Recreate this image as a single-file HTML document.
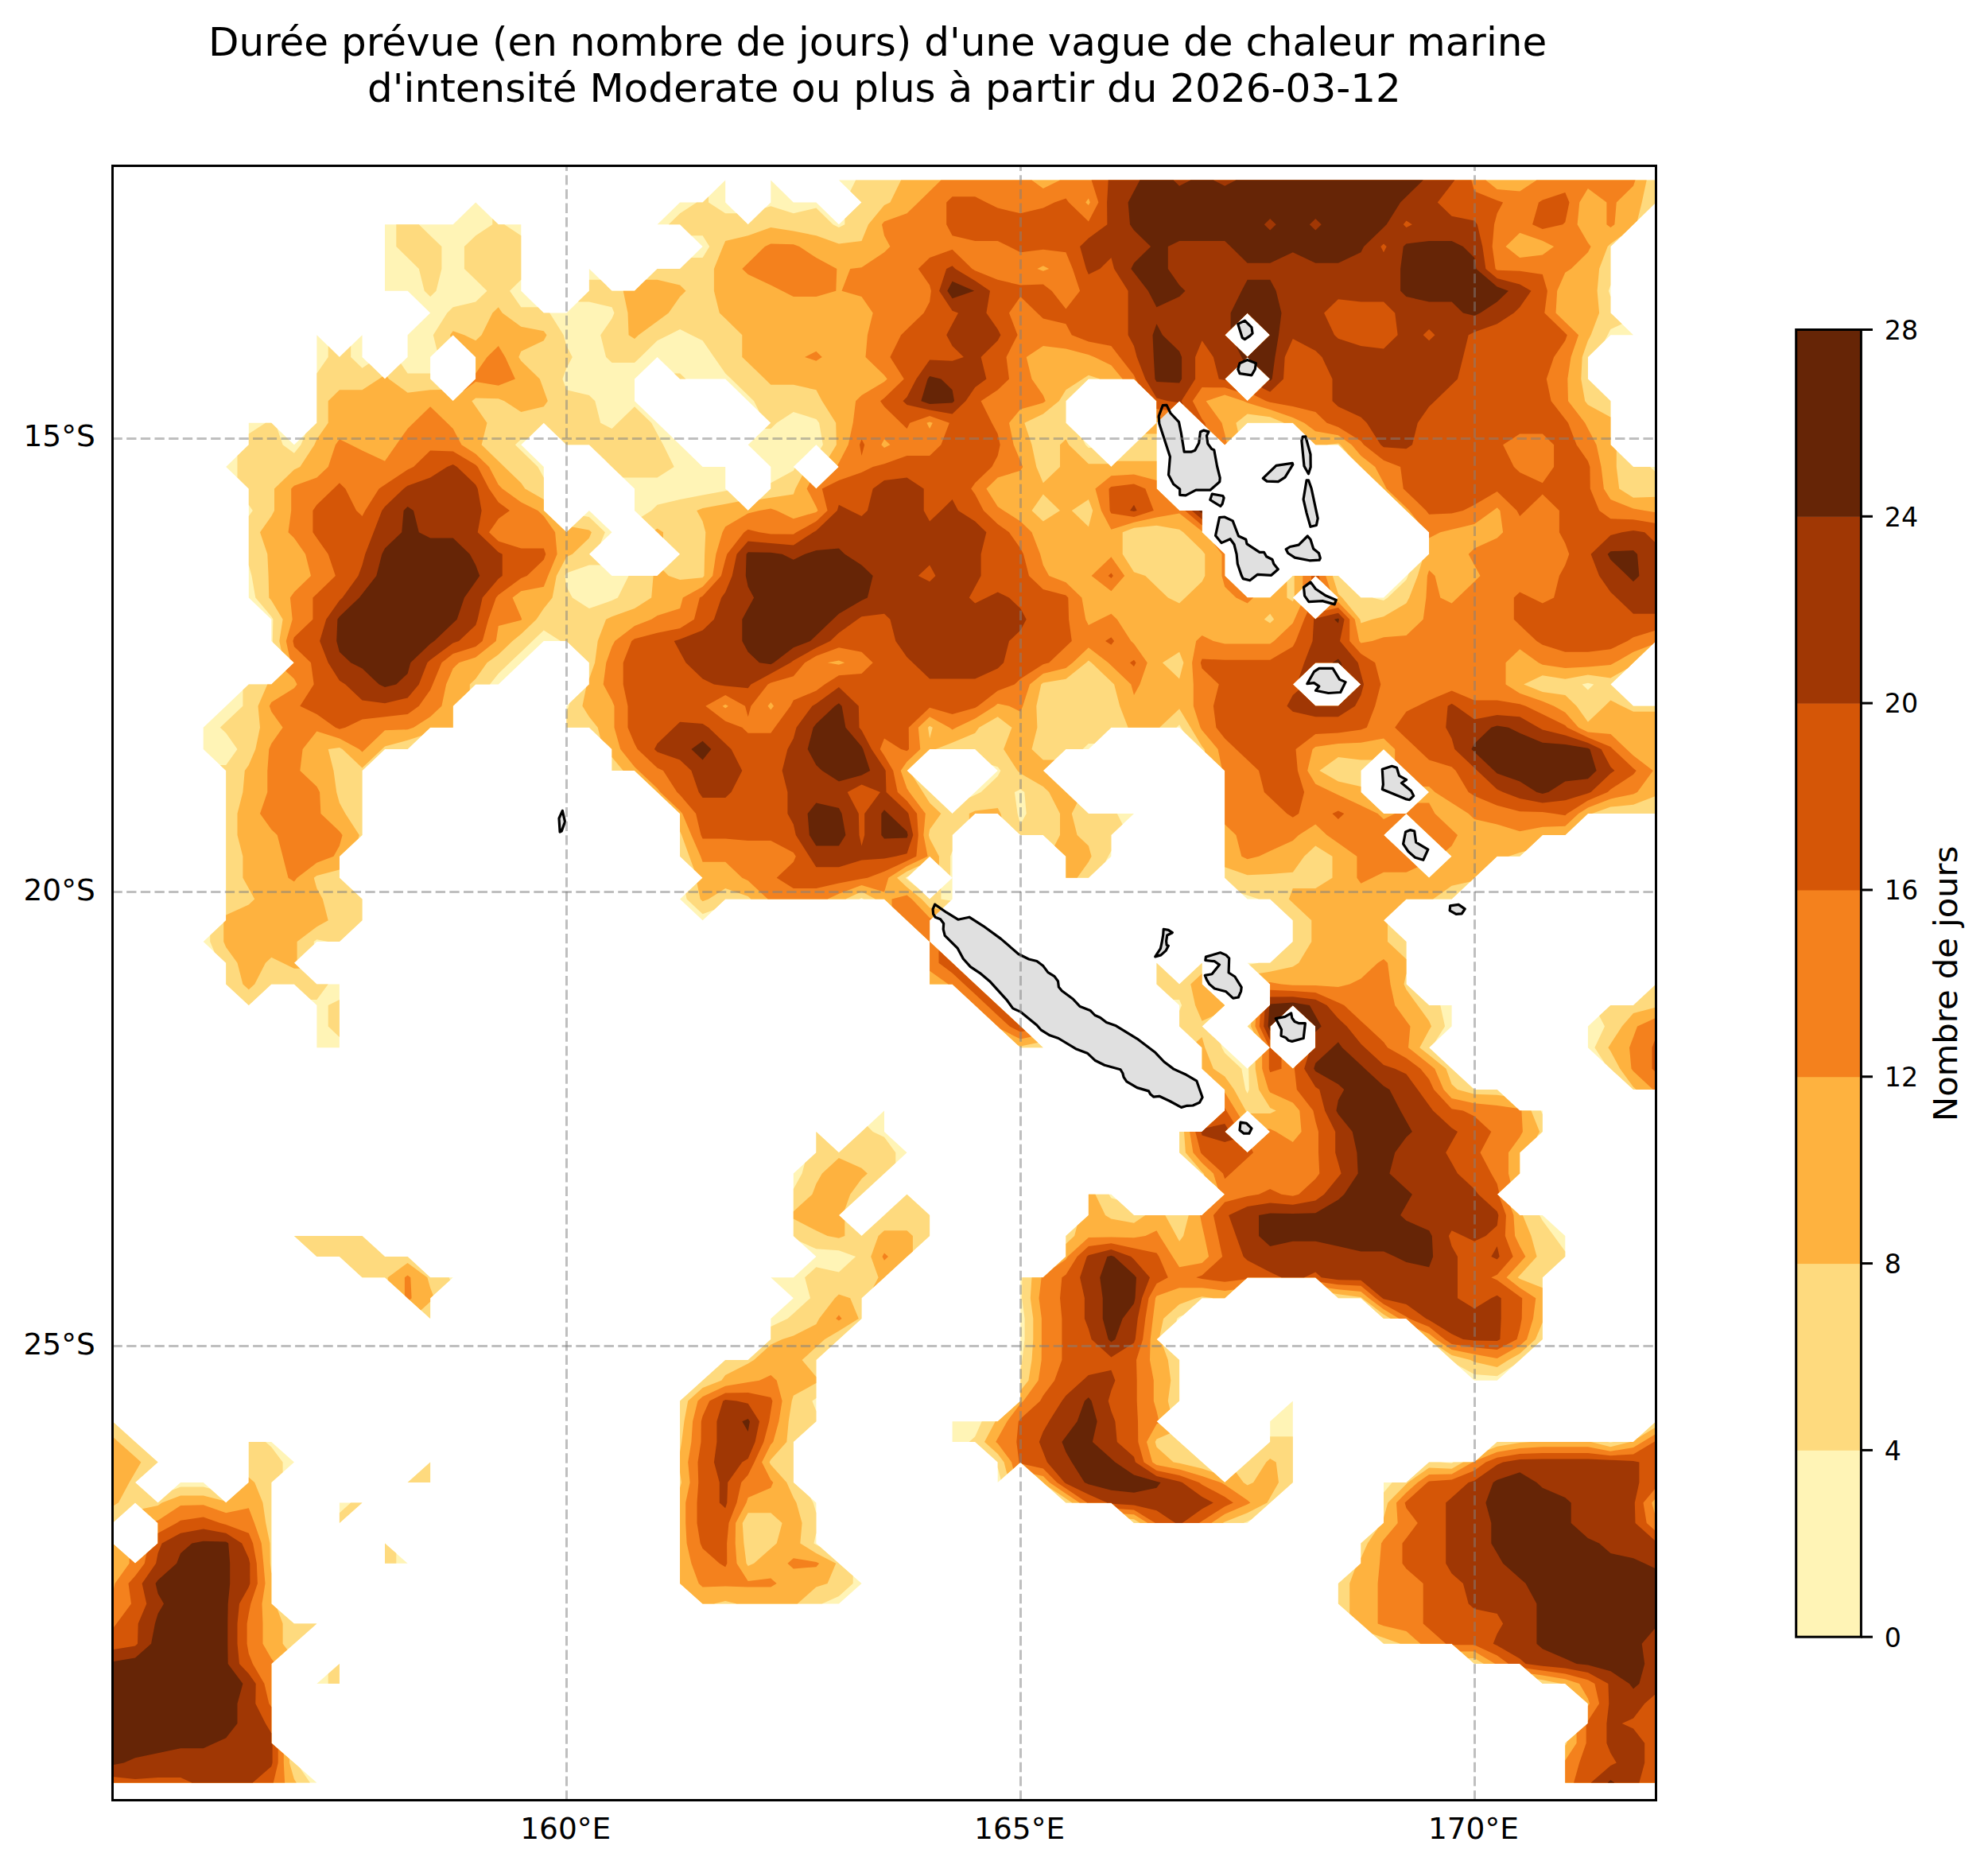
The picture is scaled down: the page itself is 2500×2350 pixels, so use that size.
<!DOCTYPE html>
<html lang="fr"><head><meta charset="utf-8"><title>Vague de chaleur marine</title>
<style>html,body{margin:0;padding:0;background:#fff}body{width:2500px;height:2350px;overflow:hidden}svg{display:block}text{font-family:"DejaVu Sans","Liberation Sans",sans-serif;fill:#000}</style></head><body>
<svg xmlns="http://www.w3.org/2000/svg" width="2500" height="2350" viewBox="0 0 2500 2350">
<rect width="2500" height="2350" fill="#fff"/>
<defs><clipPath id="ax"><rect x="141.5" y="208.5" width="1941.0" height="2055.0"/></clipPath></defs>
<g clip-path="url(#ax)">
<path fill="#e0e0e0" stroke="none" stroke-width="3.2" stroke-linejoin="round" d="M1175.6 1137.1L1190.2 1147.2L1204.8 1156.2L1218.9 1153.2L1236.5 1164.3L1258.6 1180.4L1280.7 1199.5L1293.8 1206.0L1303.9 1208.5L1311.9 1214.6L1317.9 1222.6L1326.0 1227.6L1330.5 1233.7L1331.4 1241.0L1335.3 1245.7L1349.2 1256.0L1358.2 1265.6L1370.9 1270.4L1376.9 1276.5L1383.6 1279.5L1391.4 1285.5L1403.5 1289.8L1430.0 1306.1L1453.0 1323.6L1463.8 1335.0L1475.9 1344.1L1490.4 1350.7L1504.9 1359.2L1512.1 1379.7L1508.5 1386.3L1500.1 1390.0L1492.8 1390.3L1485.6 1392.4L1471.1 1384.5L1457.8 1378.3L1450.6 1379.1L1446.9 1376.1L1444.5 1371.9L1430.0 1367.6L1416.8 1359.8L1413.1 1354.4L1411.9 1349.5L1408.9 1344.7L1389.0 1339.3L1376.9 1333.2L1367.3 1324.2L1352.8 1318.7L1331.0 1305.5L1320.2 1301.8L1309.3 1295.2L1303.9 1289.0L1283.7 1272.4L1273.7 1267.9L1265.6 1256.8L1244.5 1233.7L1232.4 1223.6L1220.4 1215.6L1211.3 1205.5L1204.3 1192.4L1188.2 1176.3L1186.2 1168.3L1186.7 1161.2L1182.6 1155.7L1176.1 1153.2L1173.6 1149.2L1173.1 1143.1ZM1463.2 1168.3L1469.3 1169.4L1474.3 1172.7L1467.7 1176.0L1466.6 1183.2L1467.1 1188.2L1469.3 1189.3L1466.0 1195.4L1459.9 1200.9L1452.7 1202.9L1459.4 1192.6L1461.0 1185.4L1462.7 1175.5ZM1516.4 1203.1L1534.6 1197.8L1541.8 1200.9L1545.7 1204.8L1545.1 1223.0L1552.9 1228.0L1561.2 1241.3L1560.6 1246.3L1557.3 1254.0L1550.7 1255.1L1541.8 1246.8L1527.4 1243.0L1520.8 1237.4L1517.5 1231.9L1515.3 1226.4L1524.1 1224.7L1533.5 1213.1L1527.4 1208.7L1515.8 1207.5ZM1604.3 1280.6L1616.0 1278.4L1623.7 1273.9L1624.8 1280.0L1628.1 1284.5L1633.7 1286.7L1641.4 1286.7L1639.2 1305.5L1624.8 1309.4L1620.4 1308.3L1617.1 1304.9L1611.0 1302.2L1611.5 1294.4ZM1560.0 1411.2L1567.5 1412.3L1574.0 1418.8L1570.8 1425.2L1564.3 1425.2L1559.0 1420.9ZM1462.2 509.7L1467.1 509.4L1472.0 519.5L1482.5 530.6L1485.5 545.4L1489.2 568.2L1497.8 568.2L1502.8 566.3L1507.7 557.1L1509.5 542.9L1513.8 541.1L1520.0 542.9L1517.5 547.8L1518.8 557.7L1523.7 564.5L1526.8 565.7L1530.5 586.0L1534.2 600.8L1533.8 605.7L1521.8 616.2L1504.0 616.2L1491.1 622.9L1483.7 622.3L1483.7 614.9L1475.7 608.8L1469.5 597.1L1471.4 574.3L1457.8 532.5L1457.2 523.2ZM1524.3 621.1L1537.8 623.5L1539.1 626.0L1537.2 633.4L1534.8 636.5L1521.8 628.5ZM1588.3 601.4L1604.9 585.4L1625.2 582.3L1625.8 584.2L1616.0 600.2L1607.4 605.7L1593.2 605.1ZM1638.2 549.1L1641.8 548.8L1648.0 571.2L1648.2 587.2L1645.5 595.8L1640.0 586.0L1636.9 554.0ZM1643.1 603.8L1645.5 603.8L1649.2 614.3L1657.2 651.8L1655.4 660.5L1648.0 662.3L1643.1 645.1L1639.1 627.8ZM1533.5 650.6L1539.7 650.0L1550.2 654.9L1557.5 674.0L1566.8 678.3L1568.0 683.8L1584.0 694.3L1589.5 694.3L1592.6 699.8L1600.0 703.5L1601.8 709.1L1607.3 715.8L1598.7 723.3L1581.5 722.3L1571.8 729.8L1563.2 727.6L1561.1 723.3L1556.3 709.1L1555.1 696.8L1552.0 684.5L1547.1 677.7L1536.0 682.6L1528.6 673.4ZM1617.2 690.6L1622.2 687.5L1633.2 685.1L1644.3 674.0L1648.0 678.3L1651.7 690.0L1658.5 695.5L1660.3 701.7L1659.1 704.2L1646.8 704.8L1628.3 701.1L1619.7 695.5ZM1556.8 407.4L1565.4 403.1L1574.0 411.7L1575.1 419.2L1571.8 422.4L1565.4 426.7L1562.2 424.6ZM1559.0 456.8L1568.6 452.5L1579.4 456.8L1578.3 464.3L1574.0 471.8L1559.0 469.7L1556.8 464.3ZM1639.5 738.4L1648.1 731.9L1654.5 740.5L1667.4 749.1L1680.3 754.5L1678.2 759.9L1663.1 755.6L1645.9 756.6L1640.6 749.1ZM1643.8 859.7L1652.4 844.7L1658.8 840.4L1676.0 840.4L1684.6 854.4L1692.1 857.6L1685.7 870.5L1670.6 871.5L1654.5 868.3L1658.8 862.9L1652.4 858.6ZM1738.3 967.3L1750.4 963.3L1756.5 965.3L1759.5 975.4L1768.6 980.4L1762.5 984.5L1774.7 994.6L1777.7 1000.6L1772.6 1005.7L1767.6 1004.6L1738.3 992.5L1739.4 986.5ZM1767.6 1046.0L1773.6 1043.6L1778.7 1045.0L1780.7 1059.1L1795.8 1068.2L1789.8 1081.3L1779.7 1078.3L1770.6 1070.2L1764.6 1061.1ZM1823.7 1138.8L1834.2 1137.4L1842.2 1142.8L1838.2 1148.9L1831.1 1149.3L1823.1 1144.8ZM707.3 1019.3L710.5 1033.2L706.2 1045.1L704.1 1046.1L703.0 1029.0Z"/>
<path fill="#fff4b6" fill-rule="evenodd" d="M883.6 254.4L912.2 226.5L912.2 254.4L940.7 282.3L969.3 254.4L969.3 226.5L997.8 254.4L1026.4 254.4L1054.9 282.3L1083.5 254.4L1054.9 226.5L1083.5 226.5L1112 226.5L1140.5 226.5L1169.1 226.5L1197.6 226.5L1226.2 226.5L1254.7 226.5L1283.3 226.5L1311.8 226.5L1340.4 226.5L1368.9 226.5L1397.4 226.5L1426 226.5L1454.5 226.5L1483.1 226.5L1511.6 226.5L1540.2 226.5L1568.7 226.5L1597.2 226.5L1625.8 226.5L1654.3 226.5L1682.9 226.5L1711.4 226.5L1740 226.5L1768.5 226.5L1797.1 226.5L1825.6 226.5L1854.1 226.5L1882.7 226.5L1911.2 226.5L1939.8 226.5L1968.3 226.5L1996.9 226.5L2025.4 226.5L2054 226.5L2082.5 226.5L2082.5 254.4L2054 282.3L2025.4 310.1L2025.4 337.9L2025.4 365.7L2025.4 393.4L2054 421.2L2025.4 421.2L1996.9 448.9L1996.9 476.5L2025.4 504.2L2025.4 531.8L2025.4 559.3L2054 586.9L2082.5 586.9L2082.5 614.4L2082.5 641.9L2082.5 669.3L2082.5 696.7L2082.5 724.1L2082.5 751.5L2082.5 778.8L2082.5 806.1L2054 833.3L2025.4 860.5L2054 887.7L2082.5 887.7L2082.5 914.8L2082.5 941.9L2082.5 969L2082.5 996L2082.5 1023L2054 1023L2025.4 1023L1996.9 1023L1968.3 1049.9L1939.8 1049.9L1911.2 1076.8L1882.7 1076.8L1854.1 1103.7L1825.6 1130.5L1797.1 1130.5L1768.5 1130.5L1740 1157.3L1768.5 1184.1L1768.5 1210.8L1768.5 1237.4L1797.1 1264L1825.6 1264L1825.6 1290.6L1797.1 1317.2L1825.6 1343.7L1854.1 1370.1L1882.7 1370.1L1911.2 1396.5L1939.8 1396.5L1939.8 1422.9L1911.2 1449.2L1911.2 1475.5L1882.7 1501.7L1911.2 1527.9L1939.8 1527.9L1968.3 1554L1968.3 1580.1L1939.8 1606.2L1939.8 1632.2L1939.8 1658.1L1939.8 1684L1911.2 1709.9L1882.7 1735.7L1854.1 1735.7L1825.6 1709.9L1797.1 1684L1768.5 1658.1L1740 1658.1L1711.4 1632.2L1682.9 1632.2L1654.3 1606.2L1625.8 1606.2L1597.2 1606.2L1568.7 1606.2L1540.2 1632.2L1511.6 1632.2L1483.1 1658.1L1454.5 1684L1483.1 1709.9L1483.1 1735.7L1483.1 1761.5L1454.5 1787.2L1483.1 1812.9L1511.6 1838.5L1540.2 1864L1568.7 1838.5L1597.2 1812.9L1597.2 1787.2L1625.8 1761.5L1625.8 1787.2L1625.8 1812.9L1625.8 1838.5L1625.8 1864L1597.2 1889.6L1568.7 1915L1540.2 1915L1511.6 1915L1483.1 1915L1454.5 1915L1426 1915L1397.4 1889.6L1368.9 1889.6L1340.4 1889.6L1311.8 1864L1283.3 1838.5L1254.7 1864L1254.7 1838.5L1226.2 1812.9L1197.6 1812.9L1197.6 1787.2L1226.2 1787.2L1254.7 1787.2L1283.3 1761.5L1283.3 1735.7L1283.3 1709.9L1283.3 1684L1283.3 1658.1L1283.3 1632.2L1283.3 1606.2L1311.8 1606.2L1340.4 1580.1L1340.4 1554L1368.9 1527.9L1368.9 1501.7L1397.4 1501.7L1426 1527.9L1454.5 1527.9L1483.1 1527.9L1511.6 1527.9L1540.2 1501.7L1511.6 1475.5L1483.1 1449.2L1483.1 1422.9L1511.6 1422.9L1540.2 1396.5L1540.2 1370.1L1511.6 1343.7L1511.6 1317.2L1483.1 1290.6L1483.1 1264L1454.5 1237.4L1454.5 1210.8L1483.1 1237.4L1511.6 1210.8L1511.6 1237.4L1540.2 1264L1511.6 1290.6L1540.2 1317.2L1568.7 1343.7L1597.2 1317.2L1625.8 1343.7L1654.3 1317.2L1654.3 1290.6L1625.8 1264L1597.2 1290.6L1597.2 1317.2L1568.7 1290.6L1597.2 1264L1597.2 1237.4L1568.7 1210.8L1597.2 1210.8L1625.8 1184.1L1625.8 1157.3L1597.2 1130.5L1568.7 1130.5L1540.2 1103.7L1540.2 1076.8L1540.2 1049.9L1540.2 1023L1540.2 996L1540.2 969L1511.6 941.9L1483.1 914.8L1454.5 914.8L1426 914.8L1397.4 914.8L1368.9 941.9L1340.4 941.9L1311.8 969L1340.4 996L1368.9 1023L1397.4 1023L1426 1023L1397.4 1049.9L1397.4 1076.8L1368.9 1103.7L1340.4 1103.7L1340.4 1076.8L1311.8 1049.9L1283.3 1049.9L1254.7 1023L1226.2 1023L1197.6 1049.9L1197.6 1076.8L1197.6 1103.7L1169.1 1076.8L1140.5 1103.7L1169.1 1130.5L1197.6 1103.7L1197.6 1130.5L1169.1 1157.3L1169.1 1184.1L1140.5 1157.3L1112 1130.5L1083.5 1130.5L1054.9 1130.5L1026.4 1130.5L997.8 1130.5L969.3 1130.5L940.7 1130.5L912.2 1130.5L883.6 1157.3L855.1 1130.5L883.6 1103.7L855.1 1076.8L855.1 1049.9L855.1 1023L826.6 996L798 969L769.5 969L769.5 941.9L740.9 914.8L712.4 914.8L712.4 887.7L740.9 860.5L740.9 833.3L712.4 806.1L683.8 806.1L655.3 833.3L626.8 860.5L598.2 860.5L569.7 887.7L569.7 914.8L541.1 914.8L512.6 941.9L484 941.9L455.5 969L455.5 996L455.5 1023L455.5 1049.9L426.9 1076.8L426.9 1103.7L455.5 1130.5L455.5 1157.3L426.9 1184.1L398.4 1184.1L369.9 1210.8L398.4 1237.4L426.9 1237.4L426.9 1264L426.9 1290.6L426.9 1317.2L398.4 1317.2L398.4 1290.6L398.4 1264L369.9 1237.4L341.3 1237.4L312.8 1264L284.2 1237.4L284.2 1210.8L255.7 1184.1L284.2 1157.3L284.2 1130.5L284.2 1103.7L284.2 1076.8L284.2 1049.9L284.2 1023L284.2 996L284.2 969L255.7 941.9L255.7 914.8L284.2 887.7L312.8 860.5L341.3 860.5L369.9 833.3L341.3 806.1L341.3 778.8L312.8 751.5L312.8 724.1L312.8 696.7L312.8 669.3L312.8 641.9L312.8 614.4L284.2 586.9L312.8 559.3L312.8 531.8L341.3 531.8L369.9 559.3L398.4 531.8L398.4 504.2L398.4 476.5L398.4 448.9L398.4 421.2L426.9 448.9L455.5 421.2L455.5 448.9L484 476.5L512.6 448.9L512.6 421.2L541.1 393.4L512.6 365.7L484 365.7L484 337.9L484 310.1L484 282.3L512.6 282.3L541.1 282.3L569.7 282.3L598.2 254.4L626.8 282.3L655.3 282.3L655.3 310.1L655.3 337.9L655.3 365.7L683.8 393.4L712.4 393.4L740.9 365.7L740.9 337.9L769.5 365.7L798 365.7L826.6 337.9L855.1 337.9L883.6 310.1L855.1 282.3L826.6 282.3L855.1 254.4ZM1026.4 559.3L997.8 586.9L1026.4 614.4L1054.9 586.9ZM1197.6 941.9L1169.1 941.9L1140.5 969L1169.1 996L1197.6 1023L1226.2 996L1254.7 969L1226.2 941.9ZM1397.4 476.5L1368.9 476.5L1340.4 504.2L1340.4 531.8L1368.9 559.3L1397.4 586.9L1426 559.3L1454.5 531.8L1454.5 559.3L1454.5 586.9L1454.5 614.4L1483.1 641.9L1511.6 641.9L1511.6 669.3L1540.2 696.7L1540.2 724.1L1568.7 751.5L1597.2 751.5L1625.8 724.1L1654.3 724.1L1625.8 751.5L1654.3 778.8L1682.9 751.5L1654.3 724.1L1682.9 724.1L1711.4 751.5L1740 751.5L1768.5 724.1L1797.1 696.7L1797.1 669.3L1768.5 641.9L1740 614.4L1711.4 586.9L1682.9 559.3L1654.3 559.3L1625.8 531.8L1597.2 531.8L1568.7 531.8L1540.2 559.3L1511.6 531.8L1483.1 504.2L1454.5 531.8L1454.5 504.2L1426 476.5ZM1568.7 393.4L1540.2 421.2L1568.7 448.9L1540.2 476.5L1568.7 504.2L1597.2 476.5L1568.7 448.9L1597.2 421.2ZM1568.7 1396.5L1540.2 1422.9L1568.7 1449.2L1597.2 1422.9ZM569.7 421.2L541.1 448.9L541.1 476.5L569.7 504.2L598.2 476.5L598.2 448.9ZM683.8 531.8L655.3 559.3L683.8 586.9L683.8 614.4L683.8 641.9L712.4 669.3L740.9 641.9L769.5 669.3L740.9 696.7L769.5 724.1L798 724.1L826.6 724.1L855.1 696.7L826.6 669.3L798 641.9L798 614.4L769.5 586.9L740.9 559.3L712.4 559.3ZM826.6 448.9L798 476.5L798 504.2L826.6 531.8L855.1 559.3L883.6 586.9L912.2 586.9L912.2 614.4L940.7 641.9L969.3 614.4L969.3 586.9L940.7 559.3L969.3 531.8L940.7 504.2L912.2 476.5L883.6 476.5L855.1 476.5ZM1682.9 833.3L1654.3 833.3L1625.8 860.5L1654.3 887.7L1682.9 887.7L1711.4 860.5ZM1740 941.9L1711.4 969L1711.4 996L1740 1023L1768.5 1023L1740 1049.9L1768.5 1076.8L1797.1 1103.7L1825.6 1076.8L1797.1 1049.9L1768.5 1023L1797.1 996L1768.5 969ZM1169.1 1210.8L1169.1 1184.1L1197.6 1210.8L1226.2 1237.4L1254.7 1264L1283.3 1290.6L1311.8 1317.2L1283.3 1317.2L1254.7 1290.6L1226.2 1264L1197.6 1237.4L1169.1 1237.4ZM2054 1264L2082.5 1237.4L2082.5 1264L2082.5 1290.6L2082.5 1317.2L2082.5 1343.7L2082.5 1370.1L2054 1370.1L2025.4 1343.7L1996.9 1317.2L1996.9 1290.6L2025.4 1264ZM1083.5 1422.9L1112 1396.5L1112 1422.9L1140.5 1449.2L1112 1475.5L1083.5 1501.7L1054.9 1527.9L1083.5 1554L1112 1527.9L1140.5 1501.7L1169.1 1527.9L1169.1 1554L1140.5 1580.1L1112 1606.2L1083.5 1632.2L1083.5 1658.1L1054.9 1684L1026.4 1709.9L1026.4 1735.7L1026.4 1761.5L1026.4 1787.2L997.8 1812.9L997.8 1838.5L997.8 1864L1026.4 1889.6L1026.4 1915L1026.4 1940.5L1054.9 1965.8L1083.5 1991.1L1054.9 2016.4L1026.4 2016.4L997.8 2016.4L969.3 2016.4L940.7 2016.4L912.2 2016.4L883.6 2016.4L855.1 1991.1L855.1 1965.8L855.1 1940.5L855.1 1915L855.1 1889.6L855.1 1864L855.1 1838.5L855.1 1812.9L855.1 1787.2L855.1 1761.5L883.6 1735.7L912.2 1709.9L940.7 1709.9L969.3 1684L969.3 1658.1L997.8 1632.2L969.3 1606.2L997.8 1606.2L1026.4 1580.1L997.8 1554L997.8 1527.9L997.8 1501.7L997.8 1475.5L1026.4 1449.2L1026.4 1422.9L1054.9 1449.2ZM369.9 1554L398.4 1554L426.9 1554L455.5 1554L484 1580.1L512.6 1580.1L541.1 1606.2L569.7 1606.2L541.1 1632.2L541.1 1658.1L512.6 1632.2L484 1606.2L455.5 1606.2L426.9 1580.1L398.4 1580.1ZM141.5 1812.9L141.5 1787.2L170 1812.9L198.6 1838.5L170 1864L198.6 1889.6L227.1 1864L255.7 1864L284.2 1889.6L312.8 1864L312.8 1838.5L312.8 1812.9L341.3 1812.9L369.9 1838.5L341.3 1864L341.3 1889.6L341.3 1915L341.3 1940.5L341.3 1965.8L341.3 1991.1L341.3 2016.4L369.9 2041.6L398.4 2041.6L369.9 2066.8L341.3 2091.9L341.3 2116.9L341.3 2141.9L341.3 2166.9L341.3 2191.8L369.9 2216.6L398.4 2241.4L369.9 2241.4L341.3 2241.4L312.8 2241.4L284.2 2241.4L255.7 2241.4L227.1 2241.4L198.6 2241.4L170 2241.4L141.5 2241.4L141.5 2216.6L141.5 2191.8L141.5 2166.9L141.5 2141.9L141.5 2116.9L141.5 2091.9L141.5 2066.8L141.5 2041.6L141.5 2016.4L141.5 1991.1L141.5 1965.8L141.5 1940.5L170 1965.8L198.6 1940.5L198.6 1915L170 1889.6L141.5 1915L141.5 1889.6L141.5 1864L141.5 1838.5ZM2054 1812.9L2082.5 1787.2L2082.5 1812.9L2082.5 1838.5L2082.5 1864L2082.5 1889.6L2082.5 1915L2082.5 1940.5L2082.5 1965.8L2082.5 1991.1L2082.5 2016.4L2082.5 2041.6L2082.5 2066.8L2082.5 2091.9L2082.5 2116.9L2082.5 2141.9L2082.5 2166.9L2082.5 2191.8L2082.5 2216.6L2082.5 2241.4L2054 2241.4L2025.4 2241.4L1996.9 2241.4L1968.3 2241.4L1968.3 2216.6L1968.3 2191.8L1996.9 2166.9L1996.9 2141.9L1968.3 2116.9L1939.8 2116.9L1911.2 2091.9L1882.7 2091.9L1854.1 2091.9L1825.6 2066.8L1797.1 2066.8L1768.5 2066.8L1740 2066.8L1711.4 2041.6L1682.9 2016.4L1682.9 1991.1L1711.4 1965.8L1711.4 1940.5L1740 1915L1740 1889.6L1740 1864L1768.5 1864L1797.1 1838.5L1825.6 1838.5L1854.1 1838.5L1882.7 1812.9L1911.2 1812.9L1939.8 1812.9L1968.3 1812.9L1996.9 1812.9L2025.4 1812.9ZM512.6 1864L541.1 1838.5L541.1 1864ZM426.9 1889.6L455.5 1889.6L426.9 1915ZM484 1965.8L484 1940.5L512.6 1965.8ZM398.4 2116.9L426.9 2091.9L426.9 2116.9Z"/>
<path fill="#feda7e" fill-rule="evenodd" d="M883.6 254.4L891 247.2L891 254.4L912.2 268.3L926.5 268.3L940.7 282.3L961.9 261.6L969.3 259.3L997.8 268.3L1026.4 261.6L1047.5 282.3L1054.9 285.9L1062.3 282.3L1062.3 275L1083.5 254.4L1069.2 240.5L1076.1 226.5L1083.5 226.5L1112 226.5L1140.5 226.5L1169.1 226.5L1197.6 226.5L1226.2 226.5L1254.7 226.5L1283.3 226.5L1311.8 226.5L1340.4 226.5L1368.9 226.5L1397.4 226.5L1426 226.5L1454.5 226.5L1483.1 226.5L1511.6 226.5L1540.2 226.5L1568.7 226.5L1597.2 226.5L1625.8 226.5L1654.3 226.5L1682.9 226.5L1711.4 226.5L1740 226.5L1768.5 226.5L1797.1 226.5L1825.6 226.5L1854.1 226.5L1882.7 226.5L1911.2 226.5L1939.8 226.5L1968.3 226.5L1996.9 226.5L2025.4 226.5L2054 226.5L2082.5 226.5L2082.5 254.4L2054 282.3L2025.4 310.1L2025.4 337.9L2025.4 358.5L2022.9 365.7L2025.4 372.9L2025.4 393.4L2039.7 407.3L2025.4 414L2021.7 421.2L2018 428.3L1996.9 448.9L1996.9 476.5L2025.4 504.2L2025.4 531.8L2025.4 559.3L2054 586.9L2075.1 586.9L2082.5 594L2082.5 614.4L2082.5 641.9L2082.5 669.3L2082.5 696.7L2082.5 724.1L2082.5 751.5L2082.5 778.8L2082.5 806.1L2054 833.3L2025.4 860.5L2054 887.7L2082.5 887.7L2082.5 914.8L2082.5 941.9L2082.5 969L2082.5 996L2082.5 1023L2054 1023L2025.4 1023L1996.9 1023L1968.3 1049.9L1939.8 1049.9L1911.2 1076.8L1882.7 1076.8L1854.1 1103.7L1825.6 1130.5L1797.1 1130.5L1768.5 1130.5L1740 1157.3L1768.5 1184.1L1768.5 1210.8L1768.5 1237.4L1797.1 1264L1811.3 1264L1817.1 1290.6L1804.5 1310.3L1797.1 1317.2L1825.6 1343.7L1854.1 1370.1L1882.7 1370.1L1911.2 1396.5L1937.7 1396.5L1939.8 1401.1L1939.8 1422.9L1911.2 1449.2L1911.2 1475.5L1882.7 1501.7L1911.2 1527.9L1936.1 1527.9L1939.8 1534.7L1954.1 1554L1968.3 1573.4L1968.3 1580.1L1939.8 1606.2L1939.8 1632.2L1939.8 1658.1L1939.8 1684L1911.2 1709.9L1903.8 1716.6L1882.7 1730.2L1854.1 1728L1833 1716.6L1825.6 1709.9L1797.1 1684L1768.5 1658.1L1740 1658.1L1711.4 1632.2L1682.9 1632.2L1654.3 1606.2L1625.8 1606.2L1597.2 1606.2L1568.7 1606.2L1540.2 1632.2L1511.6 1632.2L1488.1 1653.6L1483.1 1655.4L1480.1 1658.1L1479.4 1661.5L1454.5 1684L1483.1 1709.9L1483.1 1735.7L1483.1 1761.5L1454.5 1787.2L1483.1 1812.9L1511.6 1838.5L1540.2 1864L1568.7 1838.5L1597.2 1812.9L1597.2 1806.2L1625.8 1806.2L1625.8 1812.9L1625.8 1838.5L1625.8 1864L1597.2 1889.6L1573.7 1910.6L1568.7 1913.1L1563.7 1915L1540.2 1915L1511.6 1915L1483.1 1915L1454.5 1915L1426 1915L1397.4 1889.6L1368.9 1889.6L1340.4 1889.6L1311.8 1864L1283.3 1838.5L1258.6 1860.6L1254.7 1845.1L1254.7 1838.5L1226.2 1812.9L1218.8 1812.9L1226.2 1806.2L1234.7 1787.2L1254.7 1787.2L1283.3 1761.5L1283.3 1735.7L1283.3 1722.8L1285.4 1709.9L1288.6 1684L1288.6 1658.1L1285.1 1632.2L1285.4 1606.2L1311.8 1606.2L1340.4 1580.1L1340.4 1554L1368.9 1527.9L1368.9 1501.7L1394.5 1501.7L1397.4 1506.3L1404.8 1508.5L1426 1527.9L1454.5 1527.9L1483.1 1527.9L1511.6 1527.9L1540.2 1501.7L1511.6 1475.5L1483.1 1449.2L1483.1 1422.9L1511.6 1422.9L1540.2 1396.5L1540.2 1370.1L1511.6 1343.7L1511.6 1317.2L1483.1 1290.6L1483.1 1270.9L1486.1 1264L1483.1 1257.1L1475.7 1257.1L1454.5 1237.4L1454.5 1210.8L1483.1 1237.4L1511.6 1210.8L1511.6 1237.4L1540.2 1264L1511.6 1290.6L1535.2 1312.5L1536.5 1317.2L1540.2 1324L1561.3 1343.7L1566.2 1370.1L1568.7 1374.7L1570.8 1370.1L1570.2 1343.7L1570.2 1342.3L1597.2 1317.2L1625.8 1343.7L1654.3 1317.2L1654.3 1290.6L1625.8 1264L1597.2 1290.6L1597.2 1317.2L1568.7 1290.6L1597.2 1264L1597.2 1237.4L1570.8 1212.7L1583 1210.8L1597.2 1210.8L1625.8 1184.1L1625.8 1157.3L1597.2 1130.5L1583 1130.5L1568.7 1125.8L1561.3 1123.6L1540.2 1103.7L1540.2 1076.8L1540.2 1049.9L1540.2 1023L1540.2 996L1540.2 969L1511.6 941.9L1488.1 919.6L1485.2 914.8L1483.1 911.3L1479.4 914.8L1454.5 914.8L1426 914.8L1397.4 914.8L1376.3 934.9L1368.9 934.9L1361.5 941.9L1340.4 941.9L1311.8 969L1340.4 996L1368.9 1023L1397.4 1023L1404.8 1023L1411.7 1036.4L1397.4 1049.9L1397.4 1069.9L1393.7 1076.8L1390 1083.8L1368.9 1103.7L1340.4 1103.7L1340.4 1076.8L1311.8 1049.9L1283.3 1049.9L1254.7 1023L1226.2 1023L1197.6 1049.9L1197.6 1069.9L1195.1 1076.8L1195.1 1101.3L1169.1 1076.8L1143 1101.3L1140.5 1102.5L1138.7 1103.7L1140.5 1105.5L1154.8 1117.1L1169.1 1130.5L1183.4 1117.1L1183.4 1130.5L1195.6 1132.5L1169.1 1157.3L1169.1 1184.1L1140.5 1157.3L1112 1130.5L1086.1 1130.5L1083.5 1129.1L1080.5 1130.5L1054.9 1130.5L1026.4 1130.5L997.8 1130.5L969.3 1130.5L940.7 1130.5L912.2 1130.5L897.9 1143.9L883.6 1149.3L863.6 1130.5L862.2 1123.8L883.6 1103.7L855.1 1076.8L855.1 1049.9L855.1 1023L826.6 996L798 969L769.5 969L769.5 941.9L740.9 914.8L712.4 914.8L712.4 894.7L715.4 887.7L716.1 884.2L740.9 860.5L740.9 833.3L712.4 806.1L705 806.1L683.8 792.4L669.6 806.1L655.3 819.7L641 833.3L626.8 846.9L616 860.5L598.2 860.5L569.7 887.7L569.7 914.8L541.1 914.8L512.6 941.9L484 941.9L455.5 969L455.5 996L455.5 1023L455.5 1049.9L426.9 1076.8L426.9 1103.7L455.5 1130.5L455.5 1157.3L426.9 1184.1L412.7 1184.1L398.4 1181.3L394.7 1184.1L394.7 1187.5L369.9 1210.8L398.4 1237.4L412.7 1237.4L398.4 1257.1L391 1257.1L369.9 1237.4L341.3 1237.4L312.8 1264L284.2 1237.4L284.2 1210.8L269.9 1197.4L264.2 1184.1L264.2 1176.1L284.2 1157.3L284.2 1130.5L284.2 1103.7L284.2 1076.8L284.2 1049.9L284.2 1023L284.2 996L284.2 969L276.8 962L284.2 962L298.5 941.9L284.2 921.8L276.8 914.8L284.2 907.8L305.4 887.7L305.4 867.6L312.8 860.5L341.3 860.5L369.9 833.3L343.2 807.8L342.8 806.1L343.4 778.8L341.3 775.2L321.3 751.5L316.5 724.1L312.8 710.4L312.8 696.7L312.8 669.3L312.8 649L317.8 641.9L312.8 634.8L312.8 614.4L298.5 600.6L298.5 586.9L298.5 573.1L312.8 559.3L312.8 545.6L333.9 531.8L341.3 531.8L348.7 538.9L355.6 559.3L369.9 569.7L378.4 559.3L384.1 545.6L398.4 531.8L398.4 504.2L398.4 476.5L398.4 469.4L412.7 448.9L412.7 435L426.9 448.9L441.2 435L441.2 448.9L455.5 462.7L464 457.1L484 476.5L504.1 457.1L512.6 469.4L541.1 469.4L541.1 476.5L569.7 504.2L598.2 476.5L598.2 448.9L569.7 421.2L549.6 440.6L544.8 421.2L562.3 393.4L569.7 386.2L598.2 379.6L612.5 365.7L598.2 351.8L583.9 337.9L583.9 310.1L598.2 296.2L619.3 282.3L619.3 275L626.8 282.3L634.2 282.3L655.3 296.2L655.3 310.1L655.3 337.9L655.3 351.8L641 365.7L655.3 386.2L676.4 386.2L683.8 393.4L691.2 393.4L708.7 421.2L712.4 435L719.8 448.9L712.4 462.7L707.4 476.5L712.4 490.3L740.9 497L748.3 504.2L755.2 531.8L769.5 538.9L776.9 531.8L798 511.3L819.2 531.8L826.6 545.6L834 559.3L847.7 586.9L826.6 600.6L798 600.6L783.7 600.6L769.5 586.9L740.9 559.3L712.4 559.3L683.8 531.8L662.7 552.2L655.3 552.2L647.9 559.3L655.3 566.5L676.4 586.9L683.8 600.6L683.8 614.4L683.8 641.9L712.4 669.3L733.8 648.7L740.9 650.1L760.9 669.3L755.2 683L740.9 696.7L755.2 710.4L740.9 710.4L712.4 720.6L710.5 724.1L712.4 737.8L719.8 751.5L740.9 765.1L769.5 755L776.9 751.5L790.6 724.1L798 724.1L826.6 724.1L855.1 696.7L826.6 669.3L806.5 650.1L819.2 641.9L826.6 634.8L855.1 628.1L883.6 622.6L912.2 617.3L914.7 616.8L940.7 641.9L969.3 614.4L969.3 607.3L997.8 591.7L999.5 588.5L1026.4 614.4L1054.9 586.9L1031.7 564.5L1034.9 559.3L1030.1 531.8L1026.4 526.9L997.8 518L976.7 531.8L969.3 538.9L961.9 538.9L969.3 531.8L955 518L948.1 504.2L940.7 497L919.6 476.5L912.2 469.4L897.9 448.9L883.6 428.3L869.4 421.2L855.1 414L840.8 421.2L826.6 428.3L805.4 448.9L798 456L769.5 456L762.1 448.9L755.2 421.2L769.5 400.6L772.5 393.4L769.5 386.2L740.9 379.6L726.7 379.6L740.9 365.7L740.9 351.8L755.2 351.8L769.5 365.7L798 365.7L826.6 337.9L855.1 337.9L869.4 324L883.6 324L892.2 310.1L883.6 296.2L869.4 296.2L855.1 282.3L840.8 282.3L855.1 268.3L876.2 254.4ZM1197.6 941.9L1169.1 941.9L1140.5 969L1169.1 996L1197.6 1023L1218.8 1003L1226.2 999.5L1233.6 996L1254.7 976L1258.4 969L1254.7 964.2L1247.3 962L1226.2 941.9ZM1283.3 992.5L1275.9 996L1279.6 1023L1283.3 1036.4L1290.7 1023L1288.3 996ZM1397.4 476.5L1368.9 476.5L1340.4 504.2L1340.4 531.8L1361.5 552.2L1365.2 559.3L1368.9 562.9L1372.6 562.9L1397.4 586.9L1426 559.3L1454.5 531.8L1454.5 559.3L1454.5 586.9L1454.5 614.4L1483.1 641.9L1511.6 641.9L1511.6 669.3L1540.2 696.7L1540.2 724.1L1568.7 751.5L1597.2 751.5L1625.8 724.1L1654.3 724.1L1625.8 751.5L1654.3 778.8L1682.9 751.5L1654.3 724.1L1682.9 724.1L1711.4 751.5L1725.7 751.5L1740 755L1745 751.5L1768.5 728.9L1770.6 724.1L1771.5 721.3L1797.1 696.7L1797.1 669.3L1768.5 641.9L1740 614.4L1711.4 586.9L1682.9 559.3L1654.3 559.3L1625.8 531.8L1597.2 531.8L1568.7 531.8L1540.2 559.3L1511.6 531.8L1483.1 504.2L1454.5 531.8L1454.5 504.2L1426 476.5ZM1568.7 393.4L1540.2 421.2L1568.7 448.9L1540.2 476.5L1568.7 504.2L1597.2 476.5L1568.7 448.9L1597.2 421.2ZM1996.9 858.7L1989.5 860.5L1996.9 867.6L2004.3 860.5ZM1568.7 1396.5L1540.2 1422.9L1568.7 1449.2L1597.2 1422.9ZM1682.9 833.3L1654.3 833.3L1625.8 860.5L1654.3 887.7L1682.9 887.7L1711.4 860.5ZM1740 941.9L1711.4 969L1711.4 996L1740 1023L1768.5 1023L1740 1049.9L1768.5 1076.8L1797.1 1103.7L1825.6 1076.8L1797.1 1049.9L1768.5 1023L1797.1 996L1768.5 969ZM498.3 282.3L512.6 282.3L526.8 282.3L541.1 296.2L555.4 310.1L555.4 337.9L548.5 365.7L541.1 372.9L533.7 365.7L526.8 337.9L512.6 324L498.3 310.1ZM855.1 476.5L847.7 469.4L855.1 469.4L862.5 476.5ZM1169.1 1210.8L1169.1 1184.1L1197.6 1210.8L1226.2 1237.4L1254.7 1264L1283.3 1290.6L1311.8 1317.2L1283.3 1317.2L1254.7 1290.6L1226.2 1264L1197.6 1237.4L1169.1 1237.4ZM412.7 1264L426.9 1257.1L426.9 1264L426.9 1290.6L426.9 1303.9L412.7 1290.6ZM2054 1264L2082.5 1237.4L2082.5 1264L2082.5 1290.6L2082.5 1317.2L2082.5 1343.7L2082.5 1370.1L2054 1370.1L2025.4 1343.7L2018 1336.8L2005.4 1317.2L2018 1290.6L2011.1 1277.3L2025.4 1264ZM1083.5 1422.9L1090.9 1416.1L1097.7 1422.9L1112 1429.7L1126.3 1449.2L1126.3 1462.3L1112 1475.5L1083.5 1501.7L1054.9 1527.9L1083.5 1554L1112 1527.9L1140.5 1501.7L1169.1 1527.9L1169.1 1554L1140.5 1580.1L1112 1606.2L1083.5 1632.2L1083.5 1658.1L1054.9 1684L1026.4 1709.9L1026.4 1735.7L1026.4 1758.1L1021.4 1761.5L1026.4 1774.3L1026.4 1787.2L997.8 1812.9L997.8 1838.5L997.8 1864L1019 1883L1022.7 1889.6L1026.4 1902.3L1026.4 1915L1026.4 1927.7L1023.4 1940.5L1026.4 1942.3L1031.4 1944.9L1054.9 1965.8L1072.7 1981.6L1072.7 1991.1L1054.9 2006.9L1033.8 2016.4L1026.4 2016.4L997.8 2016.4L969.3 2016.4L940.7 2016.4L912.2 2016.4L883.6 2016.4L855.1 1991.1L855.1 1965.8L855.1 1940.5L855.1 1915L855.1 1889.6L855.1 1864L855.1 1838.5L855.1 1812.9L855.1 1787.2L855.1 1761.5L883.6 1735.7L912.2 1709.9L940.7 1709.9L969.3 1684L969.3 1667.9L990.4 1658.1L997.8 1651.4L1019 1632.2L1012.1 1606.2L1026.4 1593.2L1054.9 1599.4L1076.1 1580.1L1054.9 1572.3L1026.4 1570.3L1005.2 1560.8L997.8 1554L997.8 1527.9L997.8 1501.7L997.8 1494.9L1008.6 1475.5L1012.1 1462.3L1026.4 1449.2L1026.4 1422.9L1054.9 1449.2ZM369.9 1554L398.4 1554L426.9 1554L455.5 1554L484 1580.1L512.6 1580.1L541.1 1606.2L564.7 1606.2L566 1609.6L541.1 1632.2L541.1 1658.1L512.6 1632.2L484 1606.2L455.5 1606.2L426.9 1580.1L398.4 1580.1ZM141.5 1812.9L141.5 1787.2L170 1812.9L198.6 1838.5L170 1864L198.6 1889.6L216.4 1873.7L227.1 1869.5L255.7 1869.5L264.2 1871.7L284.2 1889.6L312.8 1864L312.8 1838.5L312.8 1812.9L333.9 1812.9L341.3 1819.5L355.6 1838.5L355.6 1851.3L341.3 1864L341.3 1889.6L341.3 1915L341.3 1940.5L341.3 1965.8L341.3 1991.1L341.3 2016.4L369.9 2041.6L398.4 2041.6L369.9 2066.8L341.3 2091.9L341.3 2116.9L341.3 2141.9L341.3 2166.9L341.3 2191.8L369.9 2216.6L377.3 2223.1L389.9 2241.4L369.9 2241.4L341.3 2241.4L312.8 2241.4L284.2 2241.4L255.7 2241.4L227.1 2241.4L198.6 2241.4L170 2241.4L141.5 2241.4L141.5 2216.6L141.5 2191.8L141.5 2166.9L141.5 2141.9L141.5 2116.9L141.5 2091.9L141.5 2066.8L141.5 2041.6L141.5 2016.4L141.5 1991.1L141.5 1965.8L141.5 1940.5L170 1965.8L198.6 1940.5L198.6 1915L170 1889.6L141.5 1915L141.5 1889.6L141.5 1864L141.5 1838.5ZM2054 1812.9L2082.5 1787.2L2082.5 1812.9L2082.5 1838.5L2082.5 1864L2082.5 1889.6L2082.5 1915L2082.5 1940.5L2082.5 1965.8L2082.5 1991.1L2082.5 2016.4L2082.5 2041.6L2082.5 2066.8L2082.5 2091.9L2082.5 2116.9L2082.5 2141.9L2082.5 2166.9L2082.5 2191.8L2082.5 2216.6L2082.5 2241.4L2054 2241.4L2025.4 2241.4L1996.9 2241.4L1968.3 2241.4L1968.3 2216.6L1968.3 2191.8L1996.9 2166.9L1996.9 2141.9L1968.3 2116.9L1939.8 2116.9L1911.2 2091.9L1882.7 2091.9L1854.1 2091.9L1825.6 2066.8L1797.1 2066.8L1768.5 2066.8L1740 2066.8L1711.4 2041.6L1682.9 2016.4L1682.9 1991.1L1711.4 1965.8L1711.4 1940.5L1740 1915L1740 1889.6L1740 1876.8L1750.7 1864L1768.5 1864L1797.1 1838.5L1811.3 1838.5L1825.6 1839.7L1827.7 1838.5L1854.1 1838.5L1882.7 1812.9L1911.2 1812.9L1939.8 1812.9L1968.3 1812.9L1996.9 1812.9L2021.7 1812.9L2025.4 1813.8L2029.1 1812.9ZM512.6 1864L541.1 1838.5L541.1 1864ZM441.2 1889.6L455.5 1889.6L426.9 1915L426.9 1902.3ZM484 1965.8L484 1940.5L498.3 1953.1L498.3 1965.8ZM412.7 2104.4L426.9 2091.9L426.9 2116.9L412.7 2116.9Z"/>
<path fill="#feb23f" fill-rule="evenodd" d="M1133.1 226.5L1140.5 226.5L1169.1 226.5L1197.6 226.5L1226.2 226.5L1254.7 226.5L1283.3 226.5L1311.8 226.5L1340.4 226.5L1368.9 226.5L1397.4 226.5L1426 226.5L1454.5 226.5L1483.1 226.5L1511.6 226.5L1540.2 226.5L1568.7 226.5L1597.2 226.5L1625.8 226.5L1654.3 226.5L1682.9 226.5L1711.4 226.5L1740 226.5L1768.5 226.5L1797.1 226.5L1825.6 226.5L1854.1 226.5L1882.7 226.5L1911.2 226.5L1939.8 226.5L1968.3 226.5L1996.9 226.5L2025.4 226.5L2054 226.5L2070.7 226.5L2064.7 254.4L2059 277.4L2054 282.3L2039.7 296.2L2025.4 306.5L2021.7 310.1L2011.1 337.9L2008.6 365.7L2011.1 393.4L2000.6 421.2L1996.9 428.3L1989.7 448.9L1988.3 476.5L1993.2 504.2L1996.9 509L2025.4 524.6L2025.4 531.8L2025.4 559.3L2032.8 566.5L2032.8 586.9L2036.2 614.4L2054 625.7L2082.5 624.8L2082.5 641.9L2082.5 669.3L2082.5 696.7L2082.5 724.1L2082.5 751.5L2082.5 778.8L2082.5 806.1L2054 833.3L2046.6 840.4L2025.4 852.4L1996.9 848.6L1968.3 853.7L1939.8 849.3L1916.2 860.5L1939.8 870.1L1968.3 874.1L1982.6 887.7L1996.9 907.8L2018 887.7L2025.4 880.6L2039.7 887.7L2054 894.7L2082.5 894.7L2082.5 914.8L2082.5 941.9L2082.5 969L2082.5 996L2082.5 1000.7L2054 1011.8L2025.4 1014.6L2001.9 1023L1996.9 1023L1968.3 1049.9L1939.8 1049.9L1918.6 1069.9L1911.2 1072.1L1897 1076.8L1882.7 1076.8L1854.1 1103.7L1849.2 1108.4L1825.6 1113.8L1802.1 1130.5L1797.1 1130.5L1768.5 1130.5L1740 1157.3L1745 1162L1745 1184.1L1768.5 1206.1L1768.5 1210.8L1768.5 1224.1L1765.5 1237.4L1768.5 1244.3L1782.8 1264L1797.1 1283.7L1800 1290.6L1797.1 1295.3L1785.3 1317.2L1797.1 1326.6L1818.5 1343.7L1825.6 1363.3L1833 1370.1L1854.1 1375.8L1882.7 1376.7L1891.2 1378L1911.2 1396.5L1925.5 1396.5L1936.1 1422.9L1932.4 1429.7L1911.2 1449.2L1911.2 1475.5L1882.7 1501.7L1911.2 1527.9L1914.9 1527.9L1925.5 1554L1932.6 1580.1L1911.2 1603.5L1908.7 1606.2L1911.2 1608.1L1939.8 1619.2L1939.8 1632.2L1939.8 1658.1L1939.8 1662.7L1930.9 1684L1911.2 1701.9L1897 1709.9L1882.7 1719.1L1854.1 1712.6L1849.2 1709.9L1825.6 1704.1L1802.1 1688.6L1797.1 1684L1768.5 1658.1L1748.9 1658.1L1740 1652.8L1712.9 1632.2L1711.4 1631L1682.9 1627.2L1676.4 1626.3L1654.3 1606.2L1625.8 1606.2L1597.2 1606.2L1568.7 1606.2L1540.2 1632.2L1525.9 1632.2L1511.6 1630.3L1504.2 1632.2L1483.1 1639.9L1463.1 1658.1L1458.2 1680.7L1454.5 1684L1461.9 1690.8L1468.8 1709.9L1472.3 1735.7L1468.8 1761.5L1471.3 1772.1L1454.5 1787.2L1471.3 1802.3L1454.5 1809.5L1452.7 1812.9L1454.5 1819.5L1475.7 1838.5L1483.1 1839.8L1511.6 1846.4L1525.9 1851.3L1540.2 1864L1554.4 1851.3L1563.7 1864L1568.7 1867.4L1576.1 1864L1592.3 1838.5L1597.2 1834L1604.7 1838.5L1608 1864L1597.2 1883L1593.5 1889.6L1568.7 1902.3L1540.2 1913.4L1537.7 1915L1511.6 1915L1483.1 1915L1454.5 1915L1433.8 1915L1426 1910.2L1420.1 1909.8L1397.4 1889.6L1368.9 1889.6L1348.2 1889.6L1340.4 1884.3L1316.8 1868.5L1311.8 1864L1283.3 1838.5L1266.4 1853.6L1262.6 1838.5L1254.7 1827.9L1238 1812.9L1251.7 1787.2L1254.7 1787.2L1283.3 1761.5L1283.3 1748.6L1293.4 1735.7L1297.5 1709.9L1299.3 1684L1299.3 1658.1L1295.8 1632.2L1297.5 1606.2L1311.8 1606.2L1340.4 1580.1L1340.4 1563.9L1351.1 1554L1354.6 1541L1368.9 1527.9L1368.9 1501.7L1377.4 1501.7L1390 1527.9L1397.4 1532.5L1426 1537.8L1440.3 1527.9L1454.5 1527.9L1465.3 1527.9L1479.4 1554L1483.1 1560.8L1488.1 1554L1494.8 1527.9L1511.6 1527.9L1540.2 1501.7L1514.6 1478.2L1513.7 1475.5L1511.6 1473.5L1490.9 1449.2L1489 1422.9L1511.6 1422.9L1540.2 1396.5L1540.2 1370.1L1511.6 1343.7L1511.6 1317.2L1504.2 1310.3L1511.6 1303.9L1515.3 1317.2L1525.9 1343.7L1540.2 1353.6L1551.9 1370.1L1566.6 1396.5L1567.3 1397.8L1540.2 1422.9L1568.7 1449.2L1597.2 1422.9L1572.4 1399.9L1597.3 1399.9L1604.7 1396.5L1597.3 1393.1L1583 1370.1L1578.7 1343.7L1578.7 1334.4L1597.2 1317.2L1625.8 1343.7L1654.3 1317.2L1654.3 1290.6L1625.8 1264L1597.2 1290.6L1597.2 1317.2L1576.6 1297.9L1573.1 1290.6L1573.4 1286.2L1597.2 1264L1597.2 1237.4L1583 1224.1L1597.2 1221.8L1625.8 1215.4L1633.2 1210.8L1649.3 1184.1L1649.3 1157.3L1625.8 1135.2L1620.8 1130.5L1625.8 1117.1L1654.3 1117.1L1675.5 1103.7L1675.5 1076.8L1654.3 1063.4L1640.1 1076.8L1625.8 1096.7L1597.2 1099L1568.7 1100.2L1540.2 1090.3L1540.2 1076.8L1540.2 1049.9L1540.2 1023L1540.2 996L1540.2 969L1515.3 945.4L1514.6 941.9L1511.6 938.4L1497.3 914.8L1483.1 891.2L1458.2 914.8L1454.5 914.8L1426 914.8L1418.6 914.8L1408.2 887.7L1401.1 860.5L1397.4 857L1372.6 833.3L1368.9 830.5L1365.9 833.3L1340.4 853.7L1311.8 858.5L1309.3 860.5L1303.3 887.7L1304.4 914.8L1297.5 941.9L1311.8 955.4L1326.1 955.4L1311.8 969L1340.4 996L1354.6 1009.5L1347.8 1023L1354.6 1049.9L1368.9 1063.4L1372.6 1076.8L1368.9 1083.8L1354.6 1103.7L1340.4 1103.7L1340.4 1076.8L1326.1 1063.4L1333 1049.9L1333 1023L1319.2 996L1311.8 989L1283.3 972.5L1279.6 969L1262.1 941.9L1272.5 914.8L1254.7 901.2L1231.2 914.8L1226.2 921.8L1197.6 933.8L1176.5 941.9L1169.1 941.9L1140.5 969L1147.9 976L1160.6 996L1169.1 1009.5L1183.4 1023L1169.1 1042.9L1167.9 1049.9L1169.1 1054.6L1180.9 1076.8L1180.9 1087.9L1169.1 1076.8L1157.3 1087.9L1140.5 1095.8L1128 1103.7L1140.5 1115.5L1159 1130.5L1169.1 1141.2L1183.8 1143.5L1169.1 1157.3L1169.1 1184.1L1140.5 1157.3L1112 1130.5L1100.9 1130.5L1083.5 1121.1L1063.4 1130.5L1054.9 1130.5L1026.4 1130.5L997.8 1130.5L969.3 1130.5L944.4 1130.5L940.7 1127L912.2 1117.1L891 1130.5L883.6 1133.3L880.7 1130.5L876.5 1110.4L883.6 1103.7L872.9 1093.6L866.9 1076.8L857.2 1049.9L855.1 1045.2L855.1 1023L826.6 996L798 969L783.7 969L769.5 952.1L769.5 941.9L755.2 928.4L751.7 914.8L740.9 901.2L732.4 887.7L737.2 864L740.9 860.5L740.9 853.5L748.1 833.3L751.7 806.1L762.1 778.8L769.5 775.2L798 765.1L819.2 751.5L821.6 724.1L826.6 724.1L834 717L840.8 724.1L855.1 728.9L883.6 726.2L885.5 724.1L886.1 696.7L887.3 669.3L883.6 655.6L876.2 641.9L883.6 639L912.2 633.7L929 630.5L940.7 641.9L955 628.1L969.3 625.7L997.8 621.5L1000.3 614.4L1009 597.7L1026.4 614.4L1054.9 586.9L1042.4 574.8L1051.9 559.3L1051.2 531.8L1033.8 504.2L1026.4 490.3L997.8 483.7L969.3 483.7L961.9 476.5L940.7 456L933.3 448.9L933.3 421.2L912.2 400.6L904.8 393.4L897.9 365.7L897.9 337.9L909.2 310.1L912.2 302.9L940.7 296.2L969.3 285.9L997.8 290.6L1026.4 296.2L1054.9 306.5L1083.5 302.9L1092 282.3L1112 258L1119.4 254.4ZM1169.1 912.8L1167 914.8L1169.1 928.4L1172.8 914.8ZM1368.9 471.7L1361.5 476.5L1340.4 490.3L1331.8 504.2L1311.8 520.4L1288.3 531.8L1297.5 559.3L1303.3 586.9L1311.8 607.3L1333 586.9L1333 559.3L1340.4 552.2L1344.1 559.3L1368.9 583.3L1393.7 583.3L1397.4 586.9L1404.8 579.7L1426 579.7L1454.5 579.7L1454.5 586.9L1454.5 614.4L1483.1 641.9L1511.6 641.9L1511.6 669.3L1540.2 696.7L1540.2 724.1L1568.7 751.5L1597.2 751.5L1618.4 731.2L1618.4 751.5L1625.8 756.2L1627.3 752.9L1654.3 778.8L1682.9 751.5L1654.3 724.1L1675.8 724.1L1682.9 746.7L1687.9 751.5L1710.3 778.8L1711.4 783.6L1725.7 778.8L1740 775.2L1768.5 758.5L1772.2 751.5L1782.8 724.1L1788.5 704.9L1797.1 696.7L1797.1 669.3L1768.5 641.9L1740 614.4L1711.4 586.9L1697.2 573.1L1685.4 559.3L1682.9 557.5L1668.6 559.3L1654.3 559.3L1625.8 531.8L1615 531.8L1597.2 524.2L1568.7 520.4L1554.4 531.8L1556.9 543.1L1540.2 559.3L1511.6 531.8L1483.1 504.2L1454.5 531.8L1454.5 504.2L1426 476.5L1397.4 476.5L1383.2 476.5ZM1568.7 393.4L1540.2 421.2L1568.7 448.9L1540.2 476.5L1568.7 504.2L1597.2 476.5L1568.7 448.9L1597.2 421.2ZM1311.8 621.5L1297.5 641.9L1311.8 655.6L1333 641.9ZM1368.9 628.1L1347.8 641.9L1368.9 662.2L1374.2 641.9ZM1426 663.7L1411.7 669.3L1411.7 696.7L1426 719.3L1440.3 724.1L1454.5 737.8L1468.8 751.5L1483.1 758.5L1490.5 751.5L1511.6 731.2L1515.3 724.1L1515.3 696.7L1511.6 691.9L1488.1 669.3L1483.1 665.8L1454.5 660.8ZM1597.2 771.7L1589.8 778.8L1597.2 783.6L1602.2 778.8ZM1682.9 833.3L1654.3 833.3L1625.8 860.5L1654.3 887.7L1682.9 887.7L1711.4 860.5ZM1483.1 819.7L1461.9 833.3L1483.1 853.5L1488.4 833.3ZM1682.9 952.1L1659.3 969L1682.9 982.5L1711.4 989L1711.4 996L1740 1023L1768.5 1023L1740 1049.9L1768.5 1076.8L1797.1 1103.7L1825.6 1076.8L1797.1 1049.9L1768.5 1023L1797.1 996L1768.5 969L1740 941.9L1725.7 955.4L1711.4 955.4ZM798 365.7L812.3 351.8L826.6 351.8L855.1 358.5L862.5 365.7L855.1 372.9L840.8 393.4L826.6 403.9L803 421.2L798 426L790.6 421.2L789.5 393.4L783.7 365.7ZM619.3 393.4L626.8 386.2L631.7 393.4L655.3 410.7L683.8 416.3L687.5 421.2L683.8 428.3L655.3 441.7L652.3 448.9L655.3 453.7L678.8 476.5L683.8 490.3L688.8 504.2L683.8 511.3L655.3 518L634.2 504.2L626.7 501.3L598.2 500.6L593.4 504.2L598.2 511.3L612.5 531.8L605.6 559.3L626.8 579.7L634.2 586.9L655.3 607.3L660.3 614.4L683.8 628.1L683.8 641.9L712.4 669.3L719.5 662.5L740.9 666.5L743.9 669.3L740.9 676.4L719.8 696.7L712.4 700.3L699.8 724.1L694.6 751.5L683.8 765.1L674.6 778.8L655.3 797.3L644.5 806.1L626.8 823L612.5 833.3L598.2 853.5L590.8 860.5L590.8 867.6L569.7 887.7L569.7 914.8L541.1 914.8L530.3 925L512.6 930.7L484 938.4L480.3 941.9L455.5 965.5L430.6 941.9L426.9 939.9L412.7 941.9L419.5 969L423.2 996L426.9 1009.5L434.3 1023L451.8 1049.9L450.5 1054.6L426.9 1076.8L426.9 1093.6L398.4 1100.9L394.7 1103.7L398.4 1117.1L405.8 1130.5L412.7 1157.3L398.4 1165.3L373.6 1184.1L373.6 1207.3L369.9 1210.8L377.3 1217.7L369.9 1217.7L355.6 1210.8L341.3 1203.8L333.9 1210.8L320.2 1237.4L312.8 1244.3L305.4 1237.4L298.5 1210.8L284.2 1191L281.2 1184.1L281.2 1160.1L284.2 1157.3L284.2 1150.4L312.8 1137.5L320.2 1130.5L312.8 1117.1L305.4 1103.7L305.4 1076.8L298.5 1049.9L298.5 1023L305.4 996L307.8 969L312.8 962L321.3 941.9L327 914.8L324.5 887.7L336.3 860.5L341.3 860.5L369.9 833.3L353.8 818L351.3 806.1L355.6 778.8L341.3 755L338.3 751.5L337.6 724.1L336.3 696.7L327 669.3L341.3 649L345 641.9L345 614.4L369.9 590.5L377.3 586.9L395.4 559.3L398.4 552.2L412.7 531.8L412.7 504.2L426.9 490.3L455.5 490.3L476.6 476.5L481 473.6L484 476.5L487 473.6L489 476.5L512.6 493.7L541.1 490.3L555 489.9L569.7 504.2L598.2 476.5L598.2 448.9L569.7 421.2L566.7 424.1L566 421.2L569.7 416.3L583.9 421.2L598.2 428.3L605.6 421.2ZM1440.3 545.6L1454.5 531.8L1454.5 545.6ZM826.6 669.3L823.6 666.5L826.6 664.5L834 669.3L834 676.4ZM1627.7 724.1L1654.3 724.1L1627.7 749.7ZM1218.8 1023L1226.2 1019.5L1254.7 1016L1258.4 1023L1259.7 1027.7L1254.7 1023L1226.2 1023L1218.8 1030ZM1169.1 1210.8L1169.1 1184.1L1197.6 1210.8L1226.2 1237.4L1254.7 1264L1283.3 1290.6L1305.2 1311L1283.3 1315.6L1279.6 1313.7L1254.7 1290.6L1226.2 1264L1197.6 1237.4L1169.1 1237.4ZM1497.3 1237.4L1511.6 1224.1L1511.6 1237.4L1540.2 1264L1525.9 1277.3L1511.6 1283.7L1503.1 1264ZM2039.7 1290.6L2054 1274.1L2082.5 1266.4L2082.5 1290.6L2082.5 1317.2L2082.5 1343.7L2082.5 1370.1L2057.7 1370.1L2054 1366.7L2037.2 1343.7L2025.4 1321.8L2022.4 1317.2L2025.4 1312.5ZM1033.8 1475.5L1054.9 1456L1083.5 1468.7L1090.9 1475.5L1083.5 1482.3L1069.2 1501.7L1062.3 1521.1L1054.9 1527.9L1062.3 1534.7L1062.3 1554L1054.9 1556.8L1040.6 1554L1026.4 1547.3L997.8 1532.5L997.8 1527.9L997.8 1523.3L1021.4 1501.7L1026.4 1488.6ZM1104.6 1554L1112 1547.3L1140.5 1547.3L1147.9 1554L1147.9 1573.4L1140.5 1580.1L1112 1606.2L1097.7 1619.2L1104.6 1606.2L1095.2 1580.1ZM487.7 1606.2L512.6 1587.9L537.4 1606.2L541.1 1619.2L544.8 1628.8L541.1 1632.2L541.1 1636.7L529.3 1647.4L512.6 1632.2L487.7 1609.6ZM1049.9 1632.2L1054.9 1627.6L1069.2 1632.2L1079.8 1658.1L1054.9 1673.4L1037.1 1684L1026.4 1693.8L1008.6 1709.9L1026.4 1731.2L1026.4 1735.7L1026.4 1739.1L997.8 1754.8L995.7 1761.5L991.7 1787.2L989.3 1812.9L969.3 1835.2L967.6 1838.5L969.3 1841.8L989.3 1864L997.8 1883L1001.5 1889.6L1008.6 1915L1006.3 1940.5L1026.4 1953.1L1051.2 1965.8L1040.6 1991.1L1026.4 1995.6L1002.8 2016.4L997.8 2016.4L969.3 2016.4L940.7 2016.4L926.5 2016.4L912.2 2013.1L897.9 2016.4L883.6 2016.4L855.1 1991.1L855.1 1965.8L855.1 1940.5L855.1 1915L855.1 1889.6L855.1 1870.7L857 1864L855.1 1851.3L855.1 1838.5L855.1 1825.7L857.2 1812.9L860.4 1787.2L865.2 1761.5L883.6 1744.9L907.2 1735.7L912.2 1729L940.7 1714.4L948.1 1709.9L969.3 1690.8L983.6 1684L997.8 1679.5L1026.4 1664.9L1030.1 1658.1ZM940.7 1902.3L933.7 1915L935.4 1940.5L938.6 1965.8L940.7 1969.1L948.1 1965.8L969.3 1947L976.7 1940.5L983.6 1915L969.3 1902.3ZM141.5 1812.9L141.5 1806.2L148.9 1812.9L170 1831.8L177.4 1838.5L170 1851.3L162.6 1864L148.9 1889.6L141.5 1894L141.5 1889.6L141.5 1864L141.5 1838.5ZM2054 1812.9L2059 1808.4L2082.5 1794.3L2082.5 1812.9L2082.5 1838.5L2082.5 1864L2082.5 1889.6L2082.5 1915L2082.5 1940.5L2082.5 1965.8L2082.5 1991.1L2082.5 2016.4L2082.5 2041.6L2082.5 2066.8L2082.5 2091.9L2082.5 2116.9L2082.5 2141.9L2082.5 2166.9L2082.5 2191.8L2082.5 2216.6L2082.5 2241.4L2054 2241.4L2025.4 2241.4L1996.9 2241.4L1968.3 2241.4L1968.3 2216.6L1968.3 2195L1970.4 2191.8L1970.4 2189.9L1996.9 2166.9L1996.9 2141.9L1968.3 2116.9L1963.3 2116.9L1939.8 2112.2L1933.3 2111.3L1911.2 2091.9L1882.7 2091.9L1865.9 2091.9L1854.1 2085L1846.3 2085L1825.6 2066.8L1797.1 2066.8L1768.5 2066.8L1761.1 2066.8L1740 2059.3L1725.7 2054.2L1711.4 2041.6L1697.2 2029L1697.2 2016.4L1697.2 1991.1L1704 1972.4L1711.4 1965.8L1711.4 1959.2L1719.9 1940.5L1732.6 1921.6L1740 1915L1740 1908.4L1745.3 1889.6L1768.5 1865.9L1770.6 1864L1797.1 1845.5L1825.6 1846.7L1839.9 1838.5L1854.1 1838.5L1870.9 1823.4L1882.7 1818.7L1911.2 1814.1L1925.5 1812.9L1939.8 1812.9L1968.3 1812.9L1996.9 1812.9L2000.6 1812.9L2025.4 1819.3L2050.3 1812.9ZM312.8 1864L312.8 1857.4L320.2 1864L330.5 1889.6L334.2 1915L339.4 1940.5L339.8 1965.8L341.3 1978.5L341.3 1991.1L341.3 2016.4L348.7 2022.9L355.6 2041.6L355.6 2066.8L361.3 2074.3L341.3 2091.9L341.3 2116.9L341.3 2141.9L341.3 2166.9L341.3 2191.8L364 2211.5L364 2216.6L369.9 2237.1L372.8 2241.4L369.9 2241.4L341.3 2241.4L312.8 2241.4L284.2 2241.4L255.7 2241.4L227.1 2241.4L198.6 2241.4L170 2241.4L141.5 2241.4L141.5 2216.6L141.5 2191.8L141.5 2166.9L141.5 2141.9L141.5 2116.9L141.5 2091.9L141.5 2066.8L141.5 2041.6L141.5 2016.4L141.5 1991.1L141.5 1965.8L141.5 1940.5L170 1965.8L198.6 1940.5L198.6 1915L178.6 1897.2L198.6 1892.9L203.6 1889.6L227.1 1880.5L255.7 1880.5L281.2 1886.9L284.2 1889.6Z"/>
<path fill="#f4811d" fill-rule="evenodd" d="M1154.8 254.4L1169.1 240.5L1183.4 226.5L1197.6 226.5L1226.2 226.5L1254.7 226.5L1283.3 226.5L1297.5 226.5L1311.8 237L1333 226.5L1340.4 226.5L1368.9 226.5L1397.4 226.5L1426 226.5L1454.5 226.5L1483.1 226.5L1511.6 226.5L1540.2 226.5L1568.7 226.5L1597.2 226.5L1625.8 226.5L1654.3 226.5L1682.9 226.5L1711.4 226.5L1740 226.5L1768.5 226.5L1797.1 226.5L1825.6 226.5L1854.1 226.5L1868.4 226.5L1882.7 238L1911.2 240.5L1932.4 226.5L1939.8 226.5L1968.3 226.5L1996.9 226.5L2025.4 226.5L2054 226.5L2056.5 226.5L2054 233.7L2032.8 254.4L2030.4 282.3L2025.4 285.9L2020.4 282.3L2020.4 254.4L1996.9 237L1986.3 254.4L1983.6 282.3L1996.9 305.2L2000.6 310.1L1996.9 317.3L1975.7 337.9L1968.3 342.8L1958.2 365.7L1956.5 393.4L1968.3 404.9L1985.1 421.2L1975.5 448.9L1971.3 476.5L1972 504.2L1993.2 531.8L1996.9 538.9L2007.6 559.3L2013.6 586.9L2016.9 614.4L2025.4 628.1L2054 639.5L2068.2 641.9L2082.5 644.3L2082.5 669.3L2082.5 696.7L2082.5 724.1L2082.5 751.5L2082.5 778.8L2082.5 806.1L2077.5 810.8L2054 819.7L2030.4 833.3L2025.4 836.1L1996.9 838.4L1968.3 840.1L1939.8 835.7L1934.8 833.3L1911.2 816.3L1893.5 833.3L1893.5 860.5L1911.2 871.7L1939.8 881.8L1954.1 887.7L1968.3 895.8L1985.1 914.8L1996.9 920.4L2025.4 922.9L2045.4 941.9L2054 950L2078.8 969L2059 996L2054 998.4L2025.4 1004.4L1996.9 1015.6L1985.1 1023L1968.3 1038.8L1939.8 1039.8L1911.2 1045.2L1882.7 1036.4L1854.1 1030L1846.7 1023L1825.6 1009.5L1804.5 996L1797.1 989L1789.7 989L1768.5 969L1754.2 955.4L1754.2 941.9L1740 928.4L1711.4 933.8L1682.9 935.1L1654.3 939.1L1650.6 941.9L1644.2 969L1654.3 985.8L1675.5 996L1682.9 999.5L1711.4 1012.8L1732.6 1023L1740 1030L1754.2 1023L1768.5 1023L1740 1049.9L1768.5 1076.8L1782.8 1090.3L1768.5 1096.7L1740 1096.7L1725.7 1103.7L1711.4 1110.7L1706.4 1103.7L1706.4 1076.8L1682.9 1060.1L1668.6 1049.9L1654.3 1036.4L1633.2 1049.9L1625.8 1056.9L1597.2 1069.9L1583 1076.8L1568.7 1080.3L1561.3 1076.8L1554.4 1049.9L1540.2 1036.4L1540.2 1023L1540.2 996L1540.2 969L1536.5 965.5L1531.6 941.9L1511.6 918.3L1509.5 914.8L1500.8 887.7L1500.8 860.5L1499.1 833.3L1504.2 806.1L1511.6 799L1525.9 806.1L1540.2 809.6L1568.7 809.6L1597.2 809.6L1602.2 806.1L1625.8 783.6L1627.9 778.8L1635.8 761L1654.3 778.8L1675 759L1682.9 757.1L1703.7 778.8L1709.3 806.1L1711.4 808.4L1725.7 806.1L1740 801.3L1768.5 799L1789.7 778.8L1793.4 751.5L1794.9 724.1L1797.1 717L1804.5 724.1L1811.3 751.5L1825.6 758.5L1833 751.5L1854.1 731.2L1861.5 724.1L1854.1 710.4L1846.7 696.7L1854.1 689.6L1882.7 676.4L1890.1 669.3L1886.4 641.9L1882.7 638.3L1877.7 641.9L1854.1 659L1825.6 665.8L1811.3 669.3L1797.1 676.4L1797.1 669.3L1782.8 655.6L1772.2 641.9L1768.5 638.3L1743.7 614.4L1740 607.3L1729.2 586.9L1711.4 573.1L1699.7 559.3L1682.9 547.2L1654.3 542.2L1640.1 531.8L1625.8 524.9L1597.2 515L1568.7 506.6L1563.7 504.2L1540.2 496.6L1516.6 504.2L1536.5 531.8L1540.2 545.6L1542.7 556.9L1540.2 559.3L1511.6 531.8L1483.1 504.2L1459.9 526.6L1454.5 525.8L1454.5 504.2L1426 476.5L1411.7 476.5L1397.4 459.3L1376.3 448.9L1368.9 446L1340.4 438.4L1311.8 435L1290.7 448.9L1297.5 476.5L1311.8 497L1314.8 504.2L1311.8 506.6L1283.3 514.6L1269 531.8L1274.7 559.3L1283.3 579.7L1286.2 586.9L1283.3 591.7L1254.7 600.6L1240.4 614.4L1254.7 637.1L1262.1 641.9L1283.3 655.6L1297.5 669.3L1308.1 696.7L1311.8 710.4L1319.2 724.1L1340.4 732.3L1360.4 751.5L1365.2 778.8L1368.9 785.9L1383.2 778.8L1397.4 771.7L1404.8 778.8L1422.3 806.1L1426 809.6L1442.8 833.3L1433.4 860.5L1426 874.1L1422.3 860.5L1397.4 836.8L1393.7 833.3L1368.9 814.2L1348.9 833.3L1340.4 840.1L1311.8 846.9L1295 860.5L1286.2 887.7L1283.3 894.7L1269 887.7L1254.7 884.8L1251 887.7L1226.2 903.6L1202.6 914.8L1197.6 917.6L1193.9 914.8L1169.1 901.2L1154.8 914.8L1157.3 941.9L1140.5 957.8L1132.7 969L1140.5 991.3L1143.5 996L1163.8 1023L1161.4 1049.9L1166.6 1076.8L1140.5 1089.1L1117.3 1103.7L1112 1121.6L1083.5 1113.1L1054.9 1123.8L1040.6 1130.5L1026.4 1130.5L997.8 1130.5L969.3 1130.5L965.6 1130.5L940.7 1107.2L933.3 1103.7L912.2 1083.8L883.6 1083.8L881.1 1076.8L869.4 1049.9L858.1 1023L855.1 1019.5L830.3 996L826.6 991.3L803 969L798 964.2L780.2 941.9L772.5 914.8L772.5 887.7L769.5 880.6L758.7 860.5L762.3 833.3L769.5 813.1L773.2 806.1L798 786.9L819.2 778.8L826.6 774L855.1 765.1L858.8 751.5L883.6 737.8L896.2 724.1L900.4 696.7L908.5 669.3L912.2 662.2L940.7 645.4L955 641.9L969.3 639.5L976.7 641.9L997.8 652.2L1026.4 643.9L1028.5 641.9L1026.4 637.1L1014.6 614.4L1018.5 606.8L1026.4 614.4L1054.9 586.9L1053 585.1L1054.9 582.1L1066.7 559.3L1072.7 531.8L1076.1 504.2L1083.5 497L1112 480.1L1115.7 476.5L1112 471.7L1088.5 448.9L1090.9 421.2L1097.7 393.4L1083.5 372.9L1058.5 365.7L1069.2 337.9L1083.5 336.3L1112 317.3L1119.4 310.1L1112 296.2L1109 282.3L1112 278.6L1140.5 268.3ZM1169.1 530.5L1165.4 531.8L1169.1 538.9L1172.8 531.8ZM1311.8 334.3L1304.4 337.9L1311.8 340.8L1319.2 337.9ZM1368.9 249.5L1365.2 254.4L1368.9 258L1370.8 254.4ZM1568.7 393.4L1540.2 421.2L1568.7 448.9L1540.2 476.5L1568.7 504.2L1597.2 476.5L1568.7 448.9L1597.2 421.2ZM1911.2 292.8L1893.5 310.1L1911.2 324L1939.8 320.6L1954.1 310.1L1939.8 302.8ZM1682.9 833.3L1654.3 833.3L1625.8 860.5L1654.3 887.7L1682.9 887.7L1711.4 860.5ZM912.2 885.7L908.5 887.7L912.2 890.5L915.9 887.7ZM969.3 882.9L965.6 887.7L969.3 892.4L973 887.7ZM1054.9 830.5L1040.6 833.3L1054.9 835.7L1062.3 833.3ZM1112 552.2L1108.3 559.3L1112 562.9L1119.4 559.3ZM961.9 310.1L969.3 306.5L997.8 307.2L1005.2 310.1L1026.4 324L1052.3 337.9L1051.3 365.7L1026.4 372.9L997.8 372.9L983.6 365.7L969.3 358.5L940.7 345.1L933.3 337.9L940.7 330.7ZM612.5 448.9L626.8 435L635.3 448.9L647.9 476.5L626.8 484.8L598.2 480.1L581.6 492.6L598.2 476.5L598.2 469.4ZM1012.1 448.9L1026.4 441.7L1033.8 448.9L1026.4 453.7ZM520 531.8L541.1 511.3L562.3 531.8L569.7 538.9L580.4 559.3L598.2 570.7L615 586.9L626.8 609.6L631.7 614.4L655.3 631.5L676.4 641.9L683.8 649L698.1 669.3L700.6 696.7L689.2 724.1L683.8 737.8L655.3 743.3L644.5 751.5L655.3 776.3L656.2 778.8L655.3 779.7L626.8 787L623.8 806.1L598.2 826.5L577.1 833.3L569.7 840.4L561.1 860.5L555.4 887.7L541.1 901.2L520 914.8L512.6 917.2L484 918.3L459.2 941.9L455.5 945.4L451.8 941.9L426.9 928.4L398.4 919.6L380.6 941.9L377.3 969L398.4 989L402.1 996L403.4 1023L426.9 1045.2L430.6 1049.9L426.9 1063.4L419.5 1076.8L398.4 1084.8L373.6 1103.7L369.9 1108.4L362.5 1103.7L355.6 1076.8L348.7 1049.9L341.3 1042.9L327 1023L336.3 996L336.3 969L338.3 941.9L341.3 934.9L355.6 914.8L341.3 894.7L338.8 887.7L341.3 882.9L369.9 865.3L373.6 860.5L369.9 853.5L359.1 843.6L369.9 833.3L364.5 828.2L359.8 806.1L367.7 778.8L364.9 751.5L369.9 744.4L391 724.1L384.1 696.7L369.9 676.4L362.5 669.3L366.2 641.9L366.2 614.4L369.9 610.8L398.4 600.6L412.7 586.9L421.9 559.3L426.9 552.2L441.2 559.3L455.5 566.5L484 579.7L498.3 559.3L512.6 538.9ZM1377.4 614.4L1397.4 598.2L1426 596.6L1454.5 604L1454.5 614.4L1483.1 641.9L1511.6 641.9L1511.6 668L1483.1 645.4L1454.5 650.4L1426 656.8L1397.4 665.8L1384.9 641.9ZM1525.9 683L1540.2 696.7L1540.2 724.1L1568.7 751.5L1576.1 751.5L1568.7 758.5L1554.4 751.5L1540.2 737.8L1536.5 724.1L1536.5 696.7ZM1372.6 724.1L1397.4 700.3L1414.2 724.1L1397.4 743.3ZM1638.3 724.1L1654.3 724.1L1638.3 739.5ZM1654.3 724.1L1667.2 724.1L1672.8 741.8ZM1768.5 1023L1782.8 1009.5L1797.1 1009.5L1804.5 1023L1825.6 1042.9L1833 1049.9L1825.6 1063.4L1818.2 1069.9L1797.1 1049.9ZM1121.5 1130.5L1140.5 1125.5L1146.7 1130.5L1169.1 1154.1L1172 1154.5L1169.1 1157.3L1169.1 1184.1L1140.5 1157.3L1121.5 1139.5ZM1169.1 1210.8L1169.1 1184.1L1197.6 1210.8L1226.2 1237.4L1254.7 1264L1283.3 1290.6L1297.2 1303.6L1283.3 1306.5L1258.4 1294.1L1254.7 1290.6L1226.2 1264L1197.6 1237.4L1192.6 1237.4L1169.1 1220.8ZM1732.6 1210.8L1740 1206.1L1745 1210.8L1748.5 1237.4L1754.2 1264L1768.5 1283.7L1773.5 1290.6L1771 1317.2L1797.1 1338L1804.2 1343.7L1815.5 1370.1L1825.6 1381L1854.1 1387.2L1882.7 1389.9L1908.3 1393.8L1911.2 1396.5L1913.4 1396.5L1914.9 1422.9L1911.2 1429.7L1897 1449.2L1897 1475.5L1899.5 1486.3L1882.7 1501.7L1899.5 1517.1L1903.4 1527.9L1905.1 1554L1911.2 1567.1L1918.4 1580.1L1911.2 1587.9L1894.5 1606.2L1911.2 1619.2L1931.3 1632.2L1928 1658.1L1920.1 1684L1911.2 1692.1L1882.7 1708L1854.1 1702.8L1825.6 1697L1805.9 1684L1797.1 1676.9L1782.8 1671.1L1768.5 1658.1L1759.6 1658.1L1740 1646.3L1721.4 1632.2L1711.4 1623.9L1682.9 1621.2L1668.6 1619.2L1654.3 1606.2L1625.8 1606.2L1597.2 1606.2L1568.7 1606.2L1551.9 1621.5L1540.2 1623L1511.6 1619.2L1483.1 1619.2L1454.5 1629.5L1453 1632.2L1449.8 1658.1L1446.7 1684L1446 1709.9L1450.8 1735.7L1450.8 1761.5L1454.5 1774.3L1457 1784.9L1454.5 1787.2L1457 1789.4L1454.5 1790.5L1442 1812.9L1449.2 1838.5L1454.5 1842L1483.1 1847.4L1511.6 1856.1L1535.2 1864L1540.2 1866.7L1568.7 1886.3L1572.4 1889.6L1568.7 1891.5L1540.2 1903.8L1523.4 1915L1511.6 1915L1483.1 1915L1454.5 1915L1443.3 1915L1426 1904.3L1413 1903.4L1397.4 1889.6L1368.9 1889.6L1357.7 1889.6L1340.4 1877.9L1319.7 1864L1311.8 1856.1L1300 1853.5L1283.3 1838.5L1274.1 1846.7L1272.1 1838.5L1254.7 1815.1L1252.2 1812.9L1254.7 1808.4L1266.5 1787.2L1283.3 1764.8L1287 1761.5L1305.7 1735.7L1309.7 1709.9L1309.9 1684L1309.9 1658.1L1306.5 1632.2L1309.7 1606.2L1311.8 1606.2L1326.1 1593.2L1340.4 1583.5L1342.5 1580.1L1368.9 1556L1397.4 1555.4L1426 1556.3L1440.3 1554L1454.5 1547.3L1458.2 1554L1474.6 1580.1L1483.1 1593.2L1511.6 1587.9L1520.1 1580.1L1514.6 1554L1511.6 1541L1509.1 1527.9L1511.6 1527.9L1540.2 1501.7L1531.6 1493.9L1525.9 1475.5L1511.6 1462.3L1500.4 1449.2L1496.1 1422.9L1511.6 1422.9L1540.2 1396.5L1540.2 1373.5L1554.4 1396.5L1559.6 1405L1540.2 1422.9L1568.7 1449.2L1597.2 1422.9L1593.5 1419.5L1597.2 1419.5L1604.7 1422.9L1625.8 1436.1L1636.6 1422.9L1634.3 1396.5L1625.8 1386.6L1597.2 1373.5L1595.1 1370.1L1587.2 1343.7L1587.2 1326.5L1597.2 1317.2L1625.8 1343.7L1654.3 1317.2L1654.3 1290.6L1625.8 1264L1597.2 1290.6L1597.2 1317.2L1586.1 1306.8L1578.5 1290.6L1579.1 1280.9L1597.2 1264L1597.2 1237.4L1595.1 1235.4L1597.2 1235.1L1611.5 1237.4L1625.8 1238.7L1654.3 1239L1682.9 1240.9L1697.2 1237.4L1711.4 1230.5ZM2059 1290.6L2082.5 1279.7L2082.5 1290.6L2082.5 1317.2L2082.5 1343.7L2082.5 1370.1L2078.8 1370.1L2054 1347.1L2051.5 1343.7L2049 1317.2L2054 1303.9ZM1109.5 1580.1L1112 1575.6L1117 1580.1L1112 1584.7ZM508.9 1606.2L512.6 1603.5L516.3 1606.2L517.6 1632.2L515.1 1634.5L512.6 1632.2L508.9 1628.8ZM1051.2 1658.1L1054.9 1653.6L1058.6 1658.1L1054.9 1660.4ZM955 1735.7L969.3 1729L976.7 1735.7L983.6 1761.5L979.4 1787.2L972.3 1812.9L969.3 1816.2L958.1 1838.5L969.3 1860.7L972.3 1864L969.3 1870.7L940.7 1883L938.6 1889.6L925.1 1915L924.7 1940.5L926.5 1965.8L940.7 1987.9L969.3 1984.6L976.7 1991.1L969.3 1995.6L940.7 1995.6L912.2 1994.4L883.6 1995.6L878.7 1991.1L869.4 1965.8L863.6 1940.5L862.2 1915L862.2 1889.6L867.6 1864L865.2 1838.5L869.4 1812.9L871.1 1787.2L877.5 1761.5L883.6 1755.9L912.2 1742.8L940.7 1738ZM2065.7 1812.9L2082.5 1802.8L2082.5 1812.9L2082.5 1838.5L2082.5 1864L2082.5 1883.2L2077.2 1889.6L2082.5 1908.4L2082.5 1915L2082.5 1940.5L2082.5 1965.8L2082.5 1991.1L2082.5 2016.4L2082.5 2041.6L2082.5 2066.8L2082.5 2091.9L2082.5 2116.9L2082.5 2141.9L2082.5 2166.9L2082.5 2191.8L2082.5 2216.6L2082.5 2241.4L2054 2241.4L2025.4 2241.4L1996.9 2241.4L1968.3 2241.4L1968.3 2216.6L1968.3 2213.4L1982.6 2191.8L1982.6 2179.3L1996.9 2166.9L1996.9 2145.2L1999 2141.9L1996.9 2135.5L1986.1 2116.9L1968.3 2111.3L1939.8 2106.4L1925.5 2104.4L1911.2 2091.9L1882.7 2091.9L1880.2 2091.9L1854.1 2076.6L1836.8 2076.6L1825.6 2066.8L1797.1 2066.8L1786.3 2066.8L1768.5 2051.1L1740 2044.2L1732.6 2041.6L1732.6 2016.4L1732.6 1991.1L1735 1965.8L1737 1940.5L1740 1936L1757.7 1915L1756 1889.6L1768.5 1876.8L1782.8 1864L1797.1 1854L1825.6 1853.6L1852 1838.5L1854.1 1838.5L1856.6 1836.2L1882.7 1825.7L1911.2 1821.1L1939.8 1819.2L1968.3 1819.2L1996.9 1819.2L2025.4 1824.8L2054 1819.9ZM198.6 1915L195.6 1912.4L198.6 1911.7L227.1 1892.9L255.7 1892.2L284.2 1902.3L312.8 1896.2L319.9 1915L328.8 1940.5L331.3 1965.8L333.5 1991.1L329.5 2016.4L330.5 2041.6L330.5 2066.8L341.3 2085.4L344.3 2089.3L341.3 2091.9L341.3 2116.9L341.3 2141.9L341.3 2166.9L341.3 2191.8L356.8 2205.3L356.8 2216.6L358.1 2241.4L341.3 2241.4L312.8 2241.4L284.2 2241.4L255.7 2241.4L227.1 2241.4L198.6 2241.4L170 2241.4L141.5 2241.4L141.5 2216.6L141.5 2191.8L141.5 2166.9L141.5 2141.9L141.5 2116.9L141.5 2091.9L141.5 2066.8L141.5 2041.6L141.5 2016.4L141.5 2003.8L144.5 1991.1L162.6 1965.8L162.6 1959.2L170 1965.8L198.6 1940.5ZM990.4 1965.8L997.8 1959.2L1026.4 1963.9L1030.1 1965.8L1026.4 1970.2L997.8 1972.4Z"/>
<path fill="#d55607" fill-rule="evenodd" d="M1190.2 254.4L1197.6 247.2L1226.2 247.2L1240.4 254.4L1254.7 261.6L1283.3 268.3L1311.8 261.6L1326.1 254.4L1340.4 249.5L1344.1 254.4L1368.9 278.6L1381.4 254.4L1372.6 226.5L1397.4 226.5L1426 226.5L1454.5 226.5L1483.1 226.5L1511.6 226.5L1540.2 226.5L1568.7 226.5L1597.2 226.5L1625.8 226.5L1654.3 226.5L1682.9 226.5L1711.4 226.5L1740 226.5L1768.5 226.5L1797.1 226.5L1825.6 226.5L1850.4 226.5L1854.1 240.5L1882.7 252L1890.1 254.4L1882.7 268.3L1879 282.3L1876.6 310.1L1880.6 337.9L1882.7 339.7L1911.2 340.8L1939.8 345.1L1945.9 365.7L1942.3 393.4L1968.3 418.7L1970.8 421.2L1968.3 428.3L1954.1 448.9L1944.8 476.5L1950.6 504.2L1968.3 526.9L1972 531.8L1982.6 559.3L1996.9 579.7L1999.4 586.9L1999.8 614.4L2011.1 641.9L2025.4 652.2L2054 653.2L2082.5 658L2082.5 669.3L2082.5 696.7L2082.5 724.1L2082.5 751.5L2082.5 778.8L2082.5 792.4L2054 801.3L2046.6 806.1L2025.4 816.3L1996.9 819.7L1968.3 819.7L1939.8 810.8L1932.4 806.1L1911.2 785.9L1903.8 778.8L1903.8 751.5L1911.2 744.4L1925.5 751.5L1939.8 758.5L1954.1 751.5L1960.9 724.1L1968.3 710.4L1973.3 696.7L1968.3 683L1960.9 669.3L1960.9 641.9L1939.8 621.5L1918.6 641.9L1911.2 649L1907.5 641.9L1882.7 618L1854.1 634.8L1839.9 641.9L1825.6 645.4L1797.1 646.7L1793.4 641.9L1768.5 618L1764.8 614.4L1761.1 586.9L1740 578.7L1715.1 559.3L1711.4 554.5L1682.9 536.9L1668.6 531.8L1654.3 518L1625.8 511.1L1597.2 505.8L1592.3 504.2L1576.6 496.6L1597.2 476.5L1568.7 448.9L1597.2 421.2L1568.7 393.4L1540.2 421.2L1568.7 448.9L1540.2 476.5L1556.9 492.8L1540.2 487.3L1511.6 487L1499.8 504.2L1511.6 526.9L1515.3 531.8L1516.6 536.6L1511.6 531.8L1483.1 504.2L1470.5 516.3L1454.5 514L1454.5 504.2L1431 481.4L1428.1 476.5L1426 471.7L1408.2 448.9L1397.4 435L1368.9 429.4L1347.8 421.2L1340.4 407.3L1311.8 400.6L1304.4 393.4L1283.3 372.9L1269 393.4L1279.6 421.2L1265.5 448.9L1269 476.5L1254.7 490.3L1233.6 504.2L1247.3 531.8L1254.7 545.6L1257.7 559.3L1254.7 573.1L1247.3 586.9L1226.2 607.3L1221.2 614.4L1226.2 621.5L1236.9 641.9L1254.7 659L1269 669.3L1283.3 689.6L1287 696.7L1294 724.1L1311.8 741.1L1340.4 748.6L1343.3 751.5L1344.1 778.8L1347.8 806.1L1340.4 813.1L1319.2 833.3L1311.8 835.3L1283.3 853.5L1275.9 860.5L1254.7 868.6L1229.9 887.7L1226.2 890.1L1197.6 897.9L1169.1 889.7L1142.7 914.8L1143 941.9L1140.5 944.3L1133.1 941.9L1112 928.4L1106.7 941.9L1112 950L1123.2 969L1128.8 996L1140.5 1007.1L1153.1 1023L1154.8 1049.9L1152.3 1076.8L1140.5 1082.4L1112 1095.7L1090.9 1103.7L1083.5 1105.1L1054.9 1110.4L1026.4 1117.1L997.8 1117.1L976.7 1103.7L997.8 1083.8L1000.8 1076.8L997.8 1072.1L969.3 1056.9L940.7 1056.9L912.2 1054.6L883.6 1054.6L881.5 1049.9L875.1 1023L855.1 999.5L851.4 996L834 969L826.6 965.5L801.7 941.9L798 934.9L789.5 914.8L789.5 887.7L783.7 860.5L783.7 833.3L794.3 806.1L798 803.2L826.6 795.8L855.1 790L872.9 778.8L879.9 751.5L883.6 749.4L906.9 724.1L912.2 703.8L914.3 696.7L935.7 669.3L940.7 665.8L955 669.3L969.3 671.4L997.8 671.7L1001.5 669.3L1026.4 655.6L1040.6 641.9L1033.8 614.4L1054.9 604L1083.5 594L1097.7 586.9L1112 583.3L1140.5 573.1L1169.1 573.1L1183.4 559.3L1193.9 531.8L1169.1 522.9L1144.2 531.8L1140.5 538.9L1133.1 531.8L1112 511.3L1107 504.2L1112 500.6L1136.8 476.5L1119.4 448.9L1133.1 421.2L1140.5 414L1161.7 393.4L1169.1 379.6L1170.9 365.7L1169.1 358.5L1154.8 337.9L1169.1 324L1197.6 313.7L1222.5 337.9L1226.2 340.2L1254.7 351.8L1283.3 358.5L1311.8 357.4L1322.6 365.7L1340.4 388.6L1358.1 365.7L1348.9 337.9L1340.4 317.3L1311.8 313.7L1283.3 317.3L1269 310.1L1254.7 302.9L1226.2 302.9L1197.6 296.2L1190.2 282.3ZM1911.2 545.6L1890.1 559.3L1903.8 586.9L1911.2 594L1939.8 607.3L1954.1 586.9L1954.1 559.3L1939.8 545.6ZM1026.4 824.8L1012.1 833.3L997.8 850.2L969.3 858.5L965.6 860.5L944.4 887.7L940.7 901.2L937 887.7L912.2 874.1L887.3 887.7L912.2 906.7L933.3 914.8L940.7 921.8L969.3 921.8L974.3 914.8L994.1 887.7L997.8 880.6L1026.4 868.6L1037.1 860.5L1054.9 849.3L1083.5 846.9L1097.7 833.3L1083.5 819.7L1054.9 814.2ZM1935 254.4L1939.8 251.4L1968.3 242L1973.5 254.4L1968.3 279.2L1965.2 282.3L1939.8 288.1L1927.1 282.3ZM1081 559.3L1083.5 552.2L1087.2 559.3L1083.5 573.1ZM520 586.9L541.1 566.5L569.7 567.6L598.2 584.5L600.7 586.9L615 614.4L626.8 631.5L641 641.9L626.8 652.2L615 669.3L626.8 680.6L655.3 689.6L683.8 689.6L686.3 696.7L683.8 703.8L662.7 724.1L655.3 727L626.8 747.9L623.8 751.5L614.2 778.8L606.7 806.1L598.2 812.9L569.7 822.1L555.4 833.3L544.1 860.5L541.1 867.6L526.8 887.7L512.6 897.9L484 901.2L455.5 904.6L434.3 914.8L426.9 916.8L421.9 914.8L398.4 897.9L377.3 887.7L394.7 860.5L391 833.3L369.9 813.1L368.4 806.1L369.9 801.3L393.4 778.8L393.4 751.5L398.4 746.7L421.9 724.1L412.7 696.7L398.4 676.4L393.4 669.3L393.4 641.9L398.4 634.8L419.5 614.4L426.9 607.3L434.3 614.4L448.1 641.9L455.5 649L459.2 641.9L476.6 614.4L484 609.6L512.6 590.5ZM1394.5 614.4L1397.4 612L1426 608.5L1440.3 614.4L1450.8 641.9L1426 649.9L1397.4 645.4L1395.6 641.9ZM1490.2 641.9L1511.6 641.9L1511.6 660.5ZM1393.7 724.1L1397.4 720.6L1399.9 724.1L1397.4 727ZM1649 724.1L1654.3 724.1L1649 729.2ZM1654.3 724.1L1658.6 724.1L1660.5 730ZM1644.3 769.2L1654.3 778.8L1665.5 768.1L1682.9 763.9L1697.2 778.8L1697.2 806.1L1711.4 822.1L1729.2 833.3L1736.3 860.5L1729.2 887.7L1718.8 914.8L1711.4 917.6L1682.9 921.6L1654.3 922.9L1629.5 941.9L1631.9 969L1640.1 996L1633.2 1023L1625.8 1027.7L1618.4 1023L1597.2 1003L1589.8 996L1583 969L1568.7 955.4L1554.4 941.9L1540.2 928.4L1529.4 914.8L1525.9 887.7L1532.8 860.5L1511.6 840.4L1509.8 833.3L1511.6 828.5L1540.2 829.8L1568.7 829.8L1597.2 829.8L1625.8 813.1L1629.5 806.1L1640.1 778.8ZM1682.9 833.3L1654.3 833.3L1625.8 860.5L1654.3 887.7L1682.9 887.7L1711.4 860.5ZM1390 806.1L1397.4 801.3L1401.1 806.1L1397.4 810.8ZM1421 833.3L1426 829.8L1428.5 833.3L1426 838.1ZM1782.8 887.7L1797.1 880.6L1825.6 868.6L1854.1 880.6L1882.7 880.6L1911.2 885.3L1918.6 887.7L1939.8 897.9L1968.3 912L1970.8 914.8L1996.9 927.2L2025.4 939.1L2028.4 941.9L2054 966.1L2057.7 969L2054 973.7L2025.4 992.5L2021.7 996L1996.9 1006.6L1970.8 1023L1968.3 1025.3L1954.1 1023L1939.8 1021L1911.2 1020.2L1882.7 1012.8L1854.1 1000.7L1846.7 996L1830.6 969L1825.6 964.2L1797.1 955.4L1782.8 941.9L1768.5 928.4L1754.2 914.8L1768.5 894.7ZM1675.5 1023L1682.9 1019.5L1690.3 1023L1682.9 1030ZM1180.5 1194.7L1197.6 1210.8L1226.2 1237.4L1254.7 1264L1283.3 1290.6L1289.3 1296.2L1283.3 1297.4L1269.7 1290.6L1254.7 1276.7L1241.1 1264L1226.2 1250.1L1212.6 1237.4L1197.6 1223.5L1180.5 1210.8ZM1597.2 1264L1597.2 1244.7L1625.8 1245.9L1654.3 1247.9L1682.9 1260.6L1690.3 1264L1711.4 1283.7L1718.8 1290.6L1740 1310.3L1745 1317.2L1768.5 1330.4L1786.3 1343.7L1797.1 1356.9L1803.2 1370.1L1825.6 1394.2L1839.9 1396.5L1854.1 1403.4L1875.3 1422.9L1861.5 1449.2L1875.3 1475.5L1882.7 1488.6L1885.2 1499.4L1882.7 1501.7L1885.2 1504L1893.9 1527.9L1892.8 1554L1902.7 1580.1L1882.7 1602.8L1875.3 1606.2L1882.7 1609.6L1911.2 1630.3L1914.2 1632.2L1913.7 1658.1L1911.2 1671.1L1907.5 1684L1882.7 1697L1854.1 1694.2L1825.6 1689.9L1816.7 1684L1797.1 1668.3L1772.2 1658.1L1768.5 1655.4L1740 1639.8L1730 1632.2L1711.4 1616.8L1682.9 1615.2L1660.8 1612.1L1654.3 1606.2L1625.8 1606.2L1597.2 1606.2L1568.7 1606.2L1566.2 1608.5L1540.2 1611.8L1511.6 1608.1L1504.2 1606.2L1511.6 1603.5L1537.2 1580.1L1531.6 1554L1525.9 1527.9L1540.2 1511.6L1568.7 1504L1583 1501.7L1597.2 1494.9L1611.5 1501.7L1625.8 1503.7L1633.2 1501.7L1654.3 1482.3L1659.3 1475.5L1658 1449.2L1658 1422.9L1654.3 1409.7L1651.4 1396.5L1630.8 1370.1L1627.9 1343.7L1628.8 1340.9L1654.3 1317.2L1654.3 1290.6L1625.8 1264L1597.2 1290.6L1597.2 1317.2L1595.6 1315.6L1583.8 1290.6L1584.8 1275.6ZM2077.5 1317.2L2082.5 1303.9L2082.5 1317.2L2082.5 1343.7L2082.5 1348.3L2077.5 1343.7ZM1595.8 1318.6L1597.2 1317.2L1611.5 1330.4L1611.5 1343.7L1597.2 1348.3L1595.8 1343.7ZM1540.2 1396.5L1540.2 1393.1L1542.3 1396.5L1551.8 1412.1L1540.2 1422.9L1568.7 1449.2L1573.7 1444.6L1576.1 1449.2L1568.7 1456L1547.6 1475.5L1540.2 1482.3L1538 1475.5L1511.6 1451.2L1510 1449.2L1503.2 1422.9L1511.6 1422.9ZM1354.6 1580.1L1368.9 1567.1L1397.4 1563.2L1426 1569.4L1454.5 1575.6L1457.5 1580.1L1468.8 1606.2L1454.5 1613.9L1444.5 1632.2L1440.3 1658.1L1437.2 1684L1429 1709.9L1429.7 1735.7L1429.7 1761.5L1431 1787.2L1431.3 1812.9L1438.5 1838.5L1454.5 1848.9L1483.1 1855.1L1507.9 1864L1511.6 1866.7L1540.2 1882L1550.9 1889.6L1540.2 1894.3L1511.6 1912.4L1507.9 1915L1483.1 1915L1454.5 1915L1452.9 1915L1426 1898.4L1405.8 1897L1397.4 1889.6L1368.9 1889.6L1367.2 1889.6L1340.4 1871.5L1329.2 1864L1311.8 1846.4L1285.8 1840.7L1283.3 1838.5L1281.9 1839.7L1281.6 1838.5L1278.3 1812.9L1280.8 1787.2L1283.3 1783.9L1308.1 1761.5L1311.8 1754.8L1326.1 1735.7L1335.4 1709.9L1335.4 1684L1335.4 1658.1L1333 1632.2L1335.4 1606.2L1340.4 1602.8ZM892.2 1761.5L912.2 1751.4L940.7 1750.9L969.3 1757L971.4 1761.5L969.3 1774.3L967.2 1787.2L960.4 1812.9L948.6 1838.5L940.7 1854.4L932.2 1864L926.5 1889.6L916.5 1915L914.1 1940.5L914.3 1965.8L912.2 1970.2L904.8 1965.8L883.6 1947L880.7 1940.5L876.5 1915L876.5 1889.6L878.3 1864L877.5 1838.5L881.5 1812.9L881.8 1787.2L883.6 1780.5ZM2080 1812.9L2082.5 1811.4L2082.5 1812.9L2082.5 1838.5L2082.5 1864L2082.5 1870.4L2066.5 1889.6L2070.7 1915L2082.5 1925.5L2082.5 1940.5L2082.5 1965.8L2082.5 1991.1L2082.5 2016.4L2082.5 2041.6L2082.5 2066.8L2082.5 2091.9L2082.5 2116.9L2082.5 2141.9L2082.5 2166.9L2082.5 2191.8L2082.5 2216.6L2082.5 2241.4L2054 2241.4L2025.4 2241.4L1996.9 2241.4L1979.1 2241.4L1986.1 2216.6L1994.7 2191.8L1994.7 2168.8L1996.9 2166.9L1996.9 2163.7L2011.1 2141.9L2005.4 2116.9L1996.9 2112.3L1968.3 2104.4L1939.8 2100.6L1917.7 2097.5L1911.2 2091.9L1897 2091.9L1882.7 2081.5L1854.1 2068.2L1827.3 2068.2L1825.6 2066.8L1818.2 2066.8L1797.1 2048.1L1789.7 2041.6L1789.7 2016.4L1789.7 1991.1L1768.5 1972.4L1763.5 1965.8L1763.5 1940.5L1768.5 1933.9L1782.8 1915L1768.5 1896.2L1766.6 1889.6L1768.5 1887.7L1794.9 1864L1797.1 1862.6L1825.6 1860.6L1854.1 1849L1868.4 1838.5L1882.7 1832.7L1911.2 1828L1939.8 1826.9L1968.3 1826.9L1996.9 1826.9L2025.4 1830.3L2054 1828.4ZM222.1 1915L227.1 1911.7L255.7 1907.4L276.8 1915L284.2 1916.9L312.8 1927.7L318.1 1940.5L322.8 1965.8L323.9 1991.1L315.3 2016.4L312.8 2029L310.6 2041.6L310.6 2066.8L312.8 2079.3L317.8 2091.9L332.4 2116.9L338.3 2141.9L341.3 2146.3L341.3 2166.9L341.3 2191.8L349.7 2199.1L349.7 2216.6L343.8 2241.4L341.3 2241.4L312.8 2241.4L284.2 2241.4L255.7 2241.4L227.1 2241.4L198.6 2241.4L170 2241.4L141.5 2241.4L141.5 2216.6L141.5 2191.8L141.5 2166.9L141.5 2141.9L141.5 2116.9L141.5 2091.9L141.5 2066.8L141.5 2048.1L146.5 2041.6L165 2016.4L161.5 1991.1L170 1981.6L181.8 1965.8L184.3 1953.1L198.6 1940.5L198.6 1927.7Z"/>
<path fill="#a03704" fill-rule="evenodd" d="M1393.7 226.5L1397.4 226.5L1426 226.5L1454.5 226.5L1483.1 226.5L1511.6 226.5L1540.2 226.5L1568.7 226.5L1597.2 226.5L1625.8 226.5L1654.3 226.5L1682.9 226.5L1711.4 226.5L1740 226.5L1768.5 226.5L1797.1 226.5L1825.6 226.5L1829.3 226.5L1825.6 231.4L1807.8 254.4L1825.6 271.7L1854.1 277.4L1857.8 282.3L1864.3 310.1L1868.4 337.9L1882.7 350.1L1911.2 357.4L1925.5 365.7L1911.2 386.2L1903.8 393.4L1882.7 407.3L1854.1 417.6L1846.7 421.2L1839.9 448.9L1833 476.5L1825.6 483.7L1804.5 504.2L1797.1 511.3L1782.8 531.8L1775.9 559.3L1768.5 564.2L1740 562.2L1736.3 559.3L1718.8 531.8L1711.4 524.6L1682.9 511.3L1675.5 504.2L1675.5 476.5L1662.5 448.9L1654.3 440.9L1625.8 426L1615.7 448.9L1614 476.5L1597.2 492.8L1586.1 487.3L1597.2 476.5L1568.7 448.9L1597.2 421.2L1568.7 393.4L1540.2 421.2L1568.7 448.9L1540.2 476.5L1542.7 478.9L1540.2 478.1L1532.8 476.5L1525.9 448.9L1511.6 428.3L1503.1 448.9L1503.1 476.5L1485.6 504.2L1488.1 509L1483.1 504.2L1481.2 506L1468.8 504.2L1454.5 500.6L1440.3 476.5L1429.7 448.9L1426 435L1418.6 421.2L1418.6 393.4L1418.6 365.7L1401.1 337.9L1397.4 324L1383.2 337.9L1368.9 345.1L1365.9 337.9L1358.1 310.1L1368.9 299.6L1392.4 282.3L1392.1 254.4ZM1682.9 376.2L1665.1 393.4L1678.1 421.2L1682.9 425.8L1711.4 435L1740 438.4L1757.7 421.2L1754.2 393.4L1740 379.6L1711.4 379.6ZM1740 306.5L1736.3 310.1L1740 317.3L1743.7 310.1ZM1768.5 277.4L1764.8 282.3L1768.5 285.9L1775.9 282.3ZM1797.1 414L1789.7 421.2L1797.1 428.3L1804.5 421.2ZM1190.2 337.9L1197.6 334.3L1201.3 337.9L1226.2 353.1L1245 365.7L1240.4 393.4L1254.7 414L1258.4 421.2L1254.7 428.3L1233.6 448.9L1240.4 476.5L1226.2 487L1214.4 504.2L1197.6 520.4L1169.1 515.4L1140.5 509L1135.5 504.2L1140.5 499.3L1152.3 476.5L1169.1 452.4L1197.6 453.7L1211.9 448.9L1197.6 435L1190.2 421.2L1197.6 407.3L1205 393.4L1197.6 390.7L1181.1 365.7ZM562.3 586.9L569.7 584L574.7 586.9L598.2 609.6L600.7 614.4L605.6 641.9L600.7 669.3L626.8 694.3L631.7 696.7L631.7 724.1L626.8 727.7L606.7 751.5L600.6 778.8L598.2 785.9L577.1 806.1L569.7 808.4L541.1 829.8L537.4 833.3L526.8 860.5L512.6 877.4L484 884.2L455.5 880.6L434.3 860.5L426.9 855.7L412.7 833.3L402.1 806.1L410.2 778.8L426.9 755L430.6 751.5L450.5 724.1L455.5 710.4L459.2 696.7L469.8 669.3L480.3 641.9L484 637.1L507.6 614.4L512.6 610.8L541.1 600.6ZM1097.7 614.4L1112 604L1140.5 600.6L1161.7 614.4L1161.7 641.9L1169.1 655.6L1183.4 641.9L1197.6 628.1L1205 641.9L1226.2 655.6L1240.4 669.3L1233.6 696.7L1233.6 724.1L1226.2 737.8L1218.8 751.5L1226.2 758.5L1240.4 751.5L1254.7 744.4L1269 751.5L1283.3 765.1L1290.7 778.8L1283.3 792.4L1269 806.1L1262.1 833.3L1254.7 840.4L1226.2 853.5L1197.6 853.5L1169.1 853.5L1147.9 833.3L1140.5 826.2L1126.3 806.1L1119.4 778.8L1112 771.7L1083.5 775.2L1078.5 778.8L1054.9 795.8L1044.1 806.1L1026.4 814.5L997.8 830.5L994.1 833.3L969.3 846.9L944.4 860.5L940.7 865.3L912.2 862.5L897.9 860.5L883.6 853.5L862.5 833.3L855.1 819.7L847.7 806.1L855.1 803.7L883.6 792.4L897.9 778.8L907.2 751.5L912.2 744.4L920.7 724.1L926.5 696.7L940.7 680.6L969.3 683L997.8 685.4L1022.7 669.3L1026.4 667.3L1052.8 641.9L1054.9 634.8L1069.2 641.9L1083.5 649L1090.9 641.9ZM1169.1 710.4L1154.8 724.1L1169.1 731.2L1176.5 724.1ZM1421 641.9L1426 634.8L1429.7 641.9L1426 643.1ZM1498.7 641.9L1511.6 641.9L1511.6 653.1ZM2039.7 669.3L2054 666.9L2068.2 669.3L2082.5 683L2082.5 696.7L2082.5 724.1L2082.5 751.5L2082.5 771.7L2054 771.7L2032.8 751.5L2025.4 744.4L2011.1 724.1L2000.6 696.7L2025.4 672.9ZM1652.8 777.4L1654.3 778.8L1656 777.2L1682.9 770.8L1690.6 778.8L1685 806.1L1707.7 833.3L1711.4 846.9L1715.1 860.5L1711.4 874.1L1704 887.7L1682.9 901.2L1654.3 901.2L1625.8 894.7L1618.4 887.7L1625.8 874.1L1633.2 867.6L1654.3 887.7L1682.9 887.7L1711.4 860.5L1682.9 833.3L1654.3 833.3L1633.2 853.5L1640.1 833.3L1650.6 806.1L1652.2 778.8ZM1021.4 887.7L1026.4 884.8L1054.9 864L1079.8 887.7L1080.5 914.8L1083.5 918.3L1096 941.9L1112 966.1L1113.7 969L1114.5 996L1140.5 1020.6L1142.4 1023L1148.3 1049.9L1140.5 1073.3L1126.3 1076.8L1112 1079.6L1083.5 1081.5L1054.9 1090.3L1026.4 1090.3L1017.8 1076.8L1000.8 1049.9L997.8 1036.4L990.4 1023L990.4 996L983.6 969L990.4 941.9L997.8 928.4L1001.5 914.8ZM1083.5 986.4L1065.7 996L1079.8 1023L1080.5 1049.9L1083.5 1063.4L1087.2 1049.9L1087.2 1023L1107 996ZM1820.6 887.7L1825.6 884.8L1830.6 887.7L1854.1 904.6L1882.7 898.9L1911.2 901.2L1934.8 914.8L1939.8 917.6L1968.3 924.4L1996.9 933.9L2013.6 941.9L2025.4 964.2L2030.4 969L2025.4 972.5L2000.6 996L1996.9 997.6L1968.3 1006.2L1939.8 1009.5L1911.2 1004L1890.1 996L1882.7 992.5L1857.8 969L1854.1 965.5L1829.3 941.9L1825.6 928.4L1818.2 914.8ZM847.7 914.8L855.1 907.8L883.6 910.1L891 914.8L912.2 934.9L919.6 941.9L933.3 969L919.6 996L912.2 1003L883.6 1003L878.7 996L869.4 969L855.1 955.4L826.6 945.4L822.9 941.9L826.6 934.9ZM1597.2 1264L1597.2 1253.6L1625.8 1253.2L1654.3 1256.7L1668.6 1264L1682.9 1280.6L1693.7 1290.6L1711.4 1312.5L1716.4 1317.2L1740 1339L1754.2 1343.7L1768.5 1350.5L1782.8 1370.1L1797.1 1389.7L1802.1 1396.5L1825.6 1418.3L1833 1422.9L1825.6 1436.1L1818.2 1449.2L1825.6 1462.3L1833 1475.5L1854.1 1494.9L1859.1 1501.7L1882.7 1523.3L1884.4 1527.9L1882.7 1541L1868.4 1554L1854.1 1560.8L1839.9 1554L1825.6 1547.3L1821.9 1554L1825.6 1567.1L1833 1580.1L1833 1606.2L1833 1632.2L1854.1 1645.2L1875.3 1632.2L1882.7 1628.8L1887.7 1632.2L1887.7 1658.1L1886.4 1684L1882.7 1686L1854.1 1685.6L1839.9 1684L1825.6 1677.3L1797.1 1659.7L1793.4 1658.1L1768.5 1639.9L1740 1633.3L1738.5 1632.2L1711.4 1609.7L1682.9 1609.2L1661.7 1606.2L1654.3 1599.4L1640.1 1606.2L1625.8 1606.2L1611.5 1606.2L1597.2 1599.4L1568.7 1584.7L1563.7 1580.1L1554.4 1554L1545.2 1527.9L1568.7 1517.1L1597.2 1512.5L1625.8 1514.8L1654.3 1509.5L1665.1 1501.7L1682.9 1480.1L1686.6 1475.5L1682.9 1462.3L1679.2 1449.2L1679.2 1422.9L1666.1 1396.5L1659.3 1370.1L1654.3 1366.7L1640.1 1343.7L1645.8 1325.1L1654.3 1317.2L1654.3 1290.6L1625.8 1264L1597.2 1290.6L1597.2 1307.8L1589.2 1290.6L1590.5 1270.3ZM1511.6 1422.9L1516.6 1418.3L1540.2 1412.9L1544 1419.3L1540.2 1422.9L1550.9 1432.8L1540.2 1436.1L1511.6 1427.5L1510.4 1422.9ZM1366.8 1580.1L1368.9 1578.2L1397.4 1571L1422.3 1580.1L1426 1583.5L1446 1606.2L1436 1632.2L1430.7 1658.1L1427.7 1684L1426 1688.6L1397.4 1706.6L1372.6 1684L1368.9 1671.1L1363.9 1658.1L1363.9 1632.2L1358.1 1606.2ZM1875.3 1580.1L1882.7 1567.1L1885.7 1580.1L1882.7 1583.5ZM1361.5 1735.7L1368.9 1729L1397.4 1722.8L1402.4 1735.7L1397.4 1748.6L1393.7 1761.5L1397.4 1774.3L1402.4 1787.2L1404.8 1812.9L1426 1831.8L1427.9 1838.5L1454.5 1855.9L1483.1 1862.7L1486.8 1864L1511.6 1882L1525.9 1889.6L1511.6 1897.2L1486.8 1915L1483.1 1915L1478.1 1915L1454.5 1899.2L1426 1892.5L1398.7 1890.7L1397.4 1889.6L1392.4 1889.6L1368.9 1879L1340.4 1865.2L1338.7 1864L1316.8 1838.5L1311.8 1825.7L1306.8 1812.9L1311.8 1800L1319.2 1787.2L1335.4 1761.5L1340.4 1754.8ZM909.2 1761.5L912.2 1760L926.5 1761.5L940.7 1764.8L955 1787.2L949.6 1812.9L940.7 1834L933.3 1838.5L915.2 1864L914.3 1889.6L912.2 1896.2L904.8 1889.6L904.8 1864L897.9 1838.5L901.4 1812.9L901.4 1787.2ZM1890.1 1838.5L1911.2 1835L1939.8 1834.6L1968.3 1834.6L1996.9 1834.6L2025.4 1835.7L2054 1837L2061.4 1838.5L2061.4 1864L2055.8 1889.6L2056.5 1915L2082.5 1938.2L2082.5 1940.5L2082.5 1965.8L2082.5 1991.1L2082.5 2016.4L2082.5 2041.6L2082.5 2066.8L2082.5 2091.9L2082.5 2116.9L2082.5 2129.4L2068.2 2141.9L2054 2160.4L2039.7 2166.9L2054 2173.4L2068.2 2191.8L2068.2 2216.6L2061.4 2241.4L2054 2241.4L2025.4 2241.4L2000.6 2241.4L2025.4 2219.9L2032.8 2216.6L2025.4 2204.2L2020.4 2191.8L2020.4 2166.9L2023.3 2141.9L2022.4 2116.9L1996.9 2102.9L1968.3 2097.5L1939.8 2094.8L1918.6 2091.9L1911.2 2085.4L1882.7 2069L1877.7 2066.8L1882.7 2054.2L1890.1 2041.6L1882.7 2029L1854.1 2022.9L1846.7 2016.4L1839.9 1991.1L1825.6 1978.5L1818.2 1965.8L1818.2 1940.5L1818.2 1915L1818.2 1889.6L1825.6 1883L1846.7 1864L1854.1 1861.8L1882.7 1841.8ZM203.6 1940.5L227.1 1927.7L255.7 1922.6L284.2 1927.7L304.2 1940.5L312.8 1959.2L314.3 1965.8L314.4 1991.1L312.8 1995.6L301 2016.4L298.5 2041.6L298.5 2066.8L301 2091.9L312.8 2104.4L321.7 2116.9L321.3 2141.9L333.9 2166.9L341.3 2179.3L341.3 2191.8L342.6 2192.9L342.6 2216.6L341.3 2221L317.8 2241.4L312.8 2241.4L284.2 2241.4L255.7 2241.4L241.4 2241.4L227.1 2235L198.6 2235L170 2237.1L141.5 2234L141.5 2216.6L141.5 2191.8L141.5 2166.9L141.5 2141.9L141.5 2116.9L141.5 2091.9L141.5 2074.3L170 2069.4L173 2066.8L173.7 2041.6L184.3 2016.4L178.6 1991.1L196.1 1965.8L198.6 1953.1Z"/>
<path fill="#662506" fill-rule="evenodd" d="M1418.6 254.4L1426 240.5L1433.4 226.5L1454.5 226.5L1475.7 226.5L1483.1 233.7L1497.3 226.5L1511.6 226.5L1525.9 226.5L1540.2 233.7L1554.4 226.5L1568.7 226.5L1597.2 226.5L1625.8 226.5L1654.3 226.5L1682.9 226.5L1711.4 226.5L1740 226.5L1768.5 226.5L1789.7 226.5L1768.5 247.2L1761.1 254.4L1743.7 282.3L1740 285.9L1715.1 310.1L1711.4 317.3L1682.9 330.7L1654.3 330.7L1625.8 317.3L1597.2 330.7L1568.7 330.7L1547.6 310.1L1540.2 302.9L1511.6 302.9L1483.1 302.9L1468.8 310.1L1468.8 337.9L1483.1 358.5L1490.5 365.7L1483.1 372.9L1454.5 386.2L1443.8 365.7L1426 342.8L1422.3 337.9L1426 330.7L1447.1 310.1L1426 289.5L1421 282.3ZM1597.2 275L1589.8 282.3L1597.2 289.5L1604.7 282.3ZM1654.3 275L1646.9 282.3L1654.3 289.5L1661.7 282.3ZM1764.8 310.1L1768.5 306.5L1797.1 302.9L1825.6 302.9L1839.9 310.1L1854.1 324L1856.3 337.9L1882.7 360.5L1897 365.7L1882.7 379.6L1861.5 393.4L1854.1 397L1839.9 393.4L1825.6 379.6L1797.1 379.6L1768.5 372.9L1761.1 365.7L1761.1 337.9ZM1191.3 365.7L1197.6 353.7L1225.1 365.7L1197.6 375.3ZM1561.3 365.7L1568.7 351.8L1597.2 351.8L1604.7 365.7L1611.5 393.4L1608 421.2L1603.4 448.9L1599.7 476.5L1597.2 478.9L1595.6 478.1L1597.2 476.5L1568.7 448.9L1597.2 421.2L1568.7 393.4L1547.6 414L1547.6 393.4ZM1449.5 421.2L1454.5 407.3L1461.9 421.2L1483.1 441.7L1486.1 448.9L1486.1 476.5L1483.1 481.4L1454.5 480.1L1452.4 476.5L1450.8 448.9ZM1554.4 435L1568.7 448.9L1563.7 453.7L1561.3 448.9ZM1166.6 476.5L1169.1 472.9L1183.4 476.5L1197.6 490.3L1200.1 504.2L1197.6 506.6L1169.1 507.9L1158.3 504.2ZM507.6 641.9L512.6 637.1L520 641.9L526.8 669.3L541.1 676.4L569.7 676.4L590.8 696.7L598.2 710.4L603.2 724.1L598.2 731.2L583.9 751.5L574.7 778.8L569.7 783.6L546.1 806.1L541.1 809.6L516.3 833.3L512.6 846.9L498.3 860.5L484 864L476.6 860.5L455.5 840.4L441.2 833.3L426.9 819.7L423.2 806.1L424.4 778.8L426.9 775.2L451.8 751.5L455.5 746.7L473.3 724.1L480.3 696.7L484 689.6L505.2 669.3ZM1507.3 641.9L1511.6 641.9L1511.6 645.6ZM938.6 696.7L940.7 694.3L969.3 694.7L983.6 696.7L997.8 703.8L1012.1 696.7L1026.4 691.9L1054.9 689.6L1062.3 696.7L1083.5 710.4L1097.7 724.1L1090.9 751.5L1083.5 755L1054.9 771.7L1047.5 778.8L1026.4 799L1019 806.1L997.8 814.2L973 833.3L969.3 835.3L955 833.3L940.7 819.7L933.3 806.1L933.3 778.8L940.7 765.1L948.1 751.5L940.7 737.8L937.8 724.1ZM2021.7 696.7L2025.4 693.2L2054 691.9L2059 696.7L2061.4 724.1L2054 731.2L2046.6 724.1L2025.4 703.8ZM1677.9 778.8L1682.9 777.6L1684 778.8L1682.9 783.6ZM1675.5 833.3L1682.9 828.5L1686.6 833.3L1687.9 838.1L1682.9 833.3ZM1049.9 887.7L1054.9 884.2L1058.6 887.7L1063.4 914.8L1083.5 938.4L1085.3 941.9L1094.2 969L1083.5 974.8L1054.9 982.5L1033.8 969L1026.4 962L1015.6 941.9L1022.7 914.8L1026.4 910.1ZM1875.3 914.8L1882.7 912.4L1897 914.8L1911.2 921.8L1939.8 933.8L1968.3 936.1L1996.9 940.7L1999.4 941.9L2007.6 969L1996.9 979.2L1968.3 982.5L1947.2 996L1939.8 998L1932.4 996L1911.2 982.5L1882.7 972.5L1879 969L1854.1 945.4L1850.4 941.9L1854.1 934.9ZM869.4 941.9L883.6 931.7L894.4 941.9L883.6 955.4ZM1015.6 1023L1026.4 1009.5L1054.9 1016L1058.6 1023L1063.4 1049.9L1054.9 1063.4L1026.4 1063.4L1017.8 1049.9ZM1108.3 1023L1112 1018.3L1117 1023L1140.5 1045.2L1141.7 1049.9L1140.5 1053.4L1112 1054.6L1108.3 1049.9ZM1597.2 1264L1597.2 1262.5L1625.8 1260.4L1646.9 1264L1654.3 1277.3L1661.7 1290.6L1654.3 1297.5L1654.3 1290.6L1625.8 1264L1597.2 1290.6L1597.2 1296.3L1594.6 1290.6L1596.3 1265ZM1675.5 1317.2L1682.9 1310.3L1687.9 1317.2L1711.4 1339L1716.4 1343.7L1740 1365.5L1747.4 1370.1L1761.1 1396.5L1768.5 1409.7L1775.9 1422.9L1768.5 1429.7L1754.2 1449.2L1747.4 1475.5L1768.5 1494.9L1775.9 1501.7L1768.5 1514.8L1761.1 1527.9L1768.5 1534.7L1797.1 1547.3L1800.8 1554L1802.1 1580.1L1797.1 1593.2L1768.5 1586.9L1754.2 1580.1L1740 1573.4L1711.4 1573.4L1682.9 1567.1L1654.3 1560.8L1625.8 1560.8L1597.2 1567.1L1583 1554L1583 1527.9L1597.2 1525.6L1625.8 1526L1654.3 1525.2L1682.9 1508.5L1690.3 1501.7L1707.7 1475.5L1706.4 1449.2L1700.7 1422.9L1682.9 1401.1L1680.4 1396.5L1682.9 1383.3L1690.3 1370.1L1682.9 1363.3L1654.3 1347.1L1652.2 1343.7L1654.3 1336.8ZM1392.4 1580.1L1397.4 1578.8L1401.1 1580.1L1426 1602.8L1429 1606.2L1427.5 1632.2L1426 1638.9L1411.7 1658.1L1402.4 1684L1397.4 1687.4L1393.7 1684L1386.7 1658.1L1386.7 1632.2L1383.2 1606.2ZM1363.9 1761.5L1368.9 1757L1372.6 1761.5L1379.7 1787.2L1373.9 1812.9L1397.4 1834L1402.4 1838.5L1426 1854.4L1454.5 1862.8L1459.5 1864L1454.5 1870.7L1426 1876.8L1397.4 1873.7L1368.9 1866.3L1363.9 1864L1347.8 1838.5L1340.4 1825.7L1335.4 1812.9L1340.4 1806.2L1354.6 1787.2ZM933.3 1787.2L940.7 1783.9L942.9 1787.2L940.7 1800ZM1877.7 1864L1882.7 1860.7L1911.2 1851.3L1932.4 1864L1939.8 1870.7L1968.3 1883L1975.7 1889.6L1975.7 1915L1996.9 1933.9L2011.1 1940.5L2025.4 1953.1L2054 1959.2L2068.2 1965.8L2082.5 1972.4L2082.5 1991.1L2082.5 2016.4L2082.5 2041.6L2082.5 2046L2064.7 2066.8L2068.2 2091.9L2061.4 2116.9L2054 2123.4L2049 2116.9L2025.4 2101.3L1996.9 2093.5L1982.6 2091.9L1968.3 2085.4L1939.8 2073.3L1932.4 2066.8L1932.4 2041.6L1932.4 2016.4L1918.6 1991.1L1911.2 1984.6L1890.1 1965.8L1882.7 1953.1L1875.3 1940.5L1875.3 1915L1868.4 1889.6ZM241.4 1940.5L255.7 1937.8L284.2 1938.6L287.2 1940.5L289.2 1965.8L289.2 1991.1L286.7 2016.4L286.3 2041.6L286.3 2066.8L286.7 2091.9L305.4 2116.9L298.5 2141.9L298.5 2166.9L284.2 2185.3L269.9 2191.8L255.7 2198.2L227.1 2198.2L198.6 2204.2L170 2210.2L155.8 2216.6L141.5 2219.2L141.5 2216.6L141.5 2191.8L141.5 2166.9L141.5 2141.9L141.5 2116.9L141.5 2091.9L141.5 2089.3L170 2084.4L190.1 2066.8L194.9 2041.6L198.6 2029L206 2016.4L198.6 2003.8L195.6 1991.1L198.6 1986.7L222.1 1965.8L227.1 1953.1ZM2021.7 2241.4L2025.4 2238.2L2030.4 2241.4L2025.4 2241.4Z"/>
<path fill="none" stroke="#000" stroke-width="3.2" stroke-linejoin="round" d="M1175.6 1137.1L1190.2 1147.2L1204.8 1156.2L1218.9 1153.2L1236.5 1164.3L1258.6 1180.4L1280.7 1199.5L1293.8 1206.0L1303.9 1208.5L1311.9 1214.6L1317.9 1222.6L1326.0 1227.6L1330.5 1233.7L1331.4 1241.0L1335.3 1245.7L1349.2 1256.0L1358.2 1265.6L1370.9 1270.4L1376.9 1276.5L1383.6 1279.5L1391.4 1285.5L1403.5 1289.8L1430.0 1306.1L1453.0 1323.6L1463.8 1335.0L1475.9 1344.1L1490.4 1350.7L1504.9 1359.2L1512.1 1379.7L1508.5 1386.3L1500.1 1390.0L1492.8 1390.3L1485.6 1392.4L1471.1 1384.5L1457.8 1378.3L1450.6 1379.1L1446.9 1376.1L1444.5 1371.9L1430.0 1367.6L1416.8 1359.8L1413.1 1354.4L1411.9 1349.5L1408.9 1344.7L1389.0 1339.3L1376.9 1333.2L1367.3 1324.2L1352.8 1318.7L1331.0 1305.5L1320.2 1301.8L1309.3 1295.2L1303.9 1289.0L1283.7 1272.4L1273.7 1267.9L1265.6 1256.8L1244.5 1233.7L1232.4 1223.6L1220.4 1215.6L1211.3 1205.5L1204.3 1192.4L1188.2 1176.3L1186.2 1168.3L1186.7 1161.2L1182.6 1155.7L1176.1 1153.2L1173.6 1149.2L1173.1 1143.1ZM1463.2 1168.3L1469.3 1169.4L1474.3 1172.7L1467.7 1176.0L1466.6 1183.2L1467.1 1188.2L1469.3 1189.3L1466.0 1195.4L1459.9 1200.9L1452.7 1202.9L1459.4 1192.6L1461.0 1185.4L1462.7 1175.5ZM1516.4 1203.1L1534.6 1197.8L1541.8 1200.9L1545.7 1204.8L1545.1 1223.0L1552.9 1228.0L1561.2 1241.3L1560.6 1246.3L1557.3 1254.0L1550.7 1255.1L1541.8 1246.8L1527.4 1243.0L1520.8 1237.4L1517.5 1231.9L1515.3 1226.4L1524.1 1224.7L1533.5 1213.1L1527.4 1208.7L1515.8 1207.5ZM1604.3 1280.6L1616.0 1278.4L1623.7 1273.9L1624.8 1280.0L1628.1 1284.5L1633.7 1286.7L1641.4 1286.7L1639.2 1305.5L1624.8 1309.4L1620.4 1308.3L1617.1 1304.9L1611.0 1302.2L1611.5 1294.4ZM1560.0 1411.2L1567.5 1412.3L1574.0 1418.8L1570.8 1425.2L1564.3 1425.2L1559.0 1420.9ZM1462.2 509.7L1467.1 509.4L1472.0 519.5L1482.5 530.6L1485.5 545.4L1489.2 568.2L1497.8 568.2L1502.8 566.3L1507.7 557.1L1509.5 542.9L1513.8 541.1L1520.0 542.9L1517.5 547.8L1518.8 557.7L1523.7 564.5L1526.8 565.7L1530.5 586.0L1534.2 600.8L1533.8 605.7L1521.8 616.2L1504.0 616.2L1491.1 622.9L1483.7 622.3L1483.7 614.9L1475.7 608.8L1469.5 597.1L1471.4 574.3L1457.8 532.5L1457.2 523.2ZM1524.3 621.1L1537.8 623.5L1539.1 626.0L1537.2 633.4L1534.8 636.5L1521.8 628.5ZM1588.3 601.4L1604.9 585.4L1625.2 582.3L1625.8 584.2L1616.0 600.2L1607.4 605.7L1593.2 605.1ZM1638.2 549.1L1641.8 548.8L1648.0 571.2L1648.2 587.2L1645.5 595.8L1640.0 586.0L1636.9 554.0ZM1643.1 603.8L1645.5 603.8L1649.2 614.3L1657.2 651.8L1655.4 660.5L1648.0 662.3L1643.1 645.1L1639.1 627.8ZM1533.5 650.6L1539.7 650.0L1550.2 654.9L1557.5 674.0L1566.8 678.3L1568.0 683.8L1584.0 694.3L1589.5 694.3L1592.6 699.8L1600.0 703.5L1601.8 709.1L1607.3 715.8L1598.7 723.3L1581.5 722.3L1571.8 729.8L1563.2 727.6L1561.1 723.3L1556.3 709.1L1555.1 696.8L1552.0 684.5L1547.1 677.7L1536.0 682.6L1528.6 673.4ZM1617.2 690.6L1622.2 687.5L1633.2 685.1L1644.3 674.0L1648.0 678.3L1651.7 690.0L1658.5 695.5L1660.3 701.7L1659.1 704.2L1646.8 704.8L1628.3 701.1L1619.7 695.5ZM1556.8 407.4L1565.4 403.1L1574.0 411.7L1575.1 419.2L1571.8 422.4L1565.4 426.7L1562.2 424.6ZM1559.0 456.8L1568.6 452.5L1579.4 456.8L1578.3 464.3L1574.0 471.8L1559.0 469.7L1556.8 464.3ZM1639.5 738.4L1648.1 731.9L1654.5 740.5L1667.4 749.1L1680.3 754.5L1678.2 759.9L1663.1 755.6L1645.9 756.6L1640.6 749.1ZM1643.8 859.7L1652.4 844.7L1658.8 840.4L1676.0 840.4L1684.6 854.4L1692.1 857.6L1685.7 870.5L1670.6 871.5L1654.5 868.3L1658.8 862.9L1652.4 858.6ZM1738.3 967.3L1750.4 963.3L1756.5 965.3L1759.5 975.4L1768.6 980.4L1762.5 984.5L1774.7 994.6L1777.7 1000.6L1772.6 1005.7L1767.6 1004.6L1738.3 992.5L1739.4 986.5ZM1767.6 1046.0L1773.6 1043.6L1778.7 1045.0L1780.7 1059.1L1795.8 1068.2L1789.8 1081.3L1779.7 1078.3L1770.6 1070.2L1764.6 1061.1ZM1823.7 1138.8L1834.2 1137.4L1842.2 1142.8L1838.2 1148.9L1831.1 1149.3L1823.1 1144.8ZM707.3 1019.3L710.5 1033.2L706.2 1045.1L704.1 1046.1L703.0 1029.0Z"/>
<g stroke="#808080" stroke-opacity="0.5" stroke-width="3" stroke-dasharray="12.33 5.33" fill="none">
<path d="M712.50 2263.5L712.50 208.5"/><path d="M1283.50 2263.5L1283.50 208.5"/><path d="M1854.50 2263.5L1854.50 208.5"/><path d="M141.5 551.50L2082.5 551.50"/><path d="M141.5 1121.50L2082.5 1121.50"/><path d="M141.5 1692.50L2082.5 1692.50"/></g>
</g>
<rect x="141.5" y="208.5" width="1941.0" height="2055.0" fill="none" stroke="#000" stroke-width="3"/>
<text x="1103.6" y="70" font-size="50" text-anchor="middle">Durée prévue (en nombre de jours) d'une vague de chaleur marine</text>
<text x="1112.0" y="128.3" font-size="50" text-anchor="middle">d'intensité Moderate ou plus à partir du 2026-03-12</text>
<text x="711.2" y="2312" font-size="37.5" text-anchor="middle">160°E</text>
<text x="1282.1" y="2312" font-size="37.5" text-anchor="middle">165°E</text>
<text x="1852.9" y="2312" font-size="37.5" text-anchor="middle">170°E</text>
<text x="119.8" y="561.3" font-size="37.5" text-anchor="end">15°S</text>
<text x="119.8" y="1132.1" font-size="37.5" text-anchor="end">20°S</text>
<text x="119.8" y="1703.0" font-size="37.5" text-anchor="end">25°S</text>
<rect x="2258.7" y="1823.39" width="81.7" height="235.31" fill="#fff4b6"/><rect x="2258.7" y="1588.57" width="81.7" height="235.31" fill="#feda7e"/><rect x="2258.7" y="1353.76" width="81.7" height="235.31" fill="#feb23f"/><rect x="2258.7" y="1118.94" width="81.7" height="235.31" fill="#f4811d"/><rect x="2258.7" y="884.13" width="81.7" height="235.31" fill="#d55607"/><rect x="2258.7" y="649.31" width="81.7" height="235.31" fill="#a03704"/><rect x="2258.7" y="414.50" width="81.7" height="235.31" fill="#662506"/>
<rect x="2258.7" y="414.5" width="81.7" height="1643.7" fill="none" stroke="#000" stroke-width="3"/>
<path d="M2340.4 2058.20h14.6" stroke="#000" stroke-width="3"/><text x="2369.7" y="2070.5" font-size="33.33">0</text>
<path d="M2340.4 1823.39h14.6" stroke="#000" stroke-width="3"/><text x="2369.7" y="1835.7" font-size="33.33">4</text>
<path d="M2340.4 1588.57h14.6" stroke="#000" stroke-width="3"/><text x="2369.7" y="1600.9" font-size="33.33">8</text>
<path d="M2340.4 1353.76h14.6" stroke="#000" stroke-width="3"/><text x="2369.7" y="1366.1" font-size="33.33">12</text>
<path d="M2340.4 1118.94h14.6" stroke="#000" stroke-width="3"/><text x="2369.7" y="1131.2" font-size="33.33">16</text>
<path d="M2340.4 884.13h14.6" stroke="#000" stroke-width="3"/><text x="2369.7" y="896.4" font-size="33.33">20</text>
<path d="M2340.4 649.31h14.6" stroke="#000" stroke-width="3"/><text x="2369.7" y="661.6" font-size="33.33">24</text>
<path d="M2340.4 414.50h14.6" stroke="#000" stroke-width="3"/><text x="2369.7" y="426.8" font-size="33.33">28</text>
<text transform="translate(2461 1236.8) rotate(-90)" font-size="41.67" text-anchor="middle">Nombre de jours</text>
</svg>
</body></html>
